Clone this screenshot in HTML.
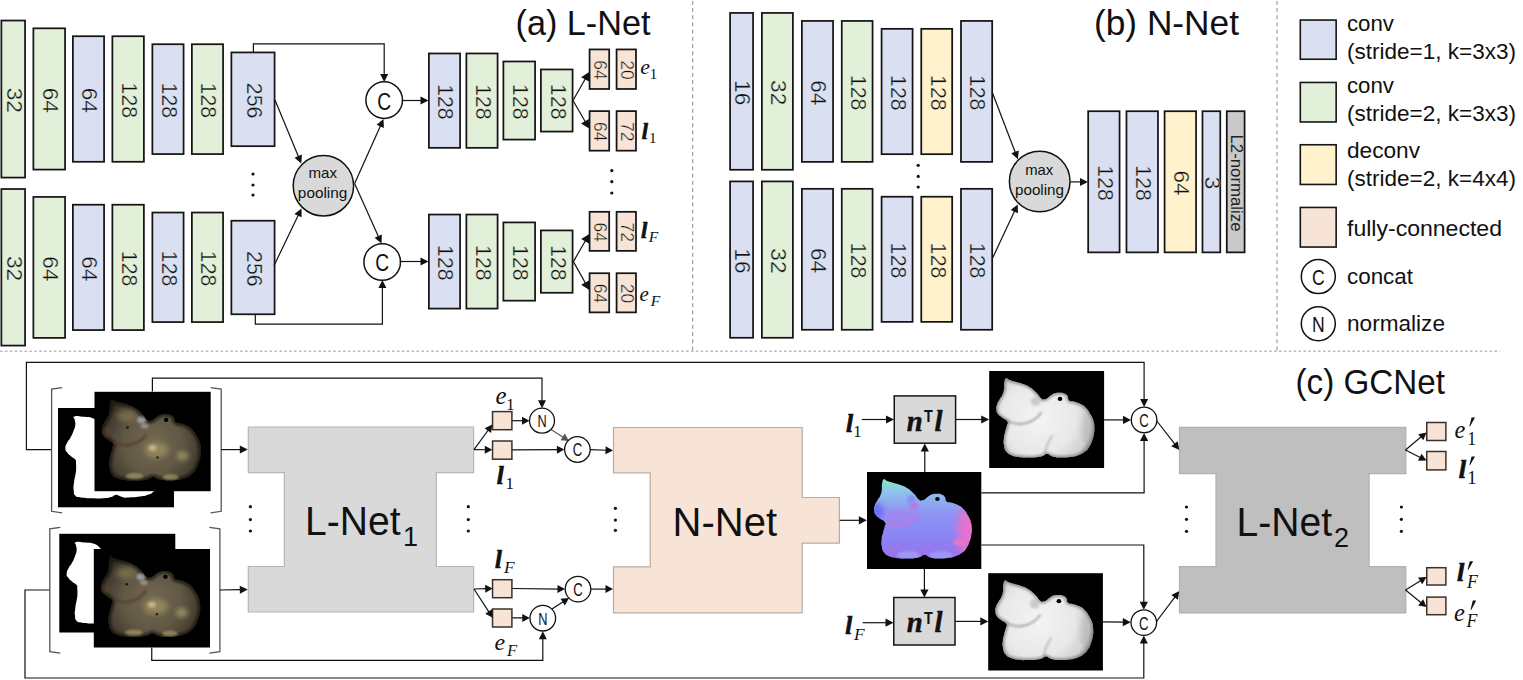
<!DOCTYPE html>
<html><head><meta charset="utf-8"><style>
html,body{margin:0;padding:0;background:#fff;}
svg{display:block;}
</style></head><body>
<svg width="1523" height="680" viewBox="0 0 1523 680">
<defs><clipPath id="catclip"><path d="M17.00,7.40 C18.59,6.41 17.50,8.06 20.50,9.20 C23.50,10.34 22.95,10.00 27.00,11.20 C31.05,12.40 29.80,11.61 34.00,13.20 C38.20,14.79 36.95,13.86 41.00,16.50 C45.05,19.14 44.05,18.55 47.50,22.00 C50.95,25.45 49.95,25.96 52.50,28.00 C55.05,30.04 54.05,28.95 56.00,28.80 C57.95,28.65 57.05,28.70 59.00,27.50 C60.95,26.30 60.25,26.21 62.50,24.80 C64.75,23.39 63.95,23.58 66.50,22.80 C69.05,22.02 68.30,22.14 71.00,22.20 C73.70,22.26 73.10,22.01 75.50,23.00 C77.90,23.99 77.41,23.40 79.00,25.50 C80.59,27.60 78.70,28.20 80.80,30.00 C82.90,31.80 82.46,30.30 86.00,31.50 C89.54,32.70 89.00,32.05 92.60,34.00 C96.20,35.95 95.18,35.06 98.00,38.00 C100.82,40.94 99.90,40.20 102.00,43.80 C104.10,47.40 103.74,46.04 105.00,50.00 C106.26,53.96 105.96,52.80 106.20,57.00 C106.44,61.20 106.46,59.80 105.80,64.00 C105.14,68.20 105.44,66.95 104.00,71.00 C102.56,75.05 103.25,74.05 101.00,77.50 C98.75,80.95 99.80,79.95 96.50,82.50 C93.20,85.05 94.35,84.41 90.00,86.00 C85.65,87.59 87.40,87.11 82.00,87.80 C76.60,88.49 77.40,88.48 72.00,88.30 C66.60,88.12 68.05,88.25 64.00,87.20 C59.95,86.15 61.50,84.92 58.50,84.80 C55.50,84.68 57.15,85.84 54.00,86.80 C50.85,87.76 52.20,87.52 48.00,88.00 C43.80,88.48 45.10,88.40 40.00,88.40 C34.90,88.40 36.10,88.66 31.00,88.00 C25.90,87.34 27.05,87.85 23.00,86.20 C18.95,84.55 19.90,85.56 17.50,82.50 C15.10,79.44 15.81,80.05 15.00,76.00 C14.19,71.95 14.44,73.20 14.80,69.00 C15.16,64.80 15.30,65.90 16.20,62.00 C17.10,58.10 17.17,59.15 17.80,56.00 C18.43,52.85 19.74,54.05 18.30,51.50 C16.86,48.95 15.79,49.75 13.00,47.50 C10.21,45.25 10.71,46.55 9.00,44.00 C7.29,41.45 7.60,42.00 7.30,39.00 C7.00,36.00 7.04,37.00 8.00,34.00 C8.96,31.00 8.85,32.00 10.50,29.00 C12.15,26.00 12.15,27.30 13.50,24.00 C14.85,20.70 14.49,21.45 15.00,18.00 C15.51,14.55 14.60,15.68 15.20,12.50 C15.80,9.32 15.41,8.39 17.00,7.40 Z"/></clipPath><filter id="blur2" x="-20%" y="-20%" width="140%" height="140%"><feGaussianBlur stdDeviation="2.5"/></filter><filter id="blur3" x="-50%" y="-50%" width="200%" height="200%"><feGaussianBlur stdDeviation="4.5"/></filter><filter id="blur1" x="-20%" y="-20%" width="140%" height="140%"><feGaussianBlur stdDeviation="1.2"/></filter><radialGradient id="goldg" gradientUnits="userSpaceOnUse" cx="58" cy="52" r="58"><stop offset="0" stop-color="#746a52"/><stop offset="0.5" stop-color="#615845"/><stop offset="0.82" stop-color="#433c2f"/><stop offset="1" stop-color="#201d17"/></radialGradient><radialGradient id="whiteg" gradientUnits="userSpaceOnUse" cx="50" cy="48" r="62"><stop offset="0" stop-color="#f4f4f4"/><stop offset="0.6" stop-color="#e8e8e8"/><stop offset="0.85" stop-color="#d0d0d0"/><stop offset="1" stop-color="#8a8a8a"/></radialGradient><linearGradient id="nrmg" gradientUnits="userSpaceOnUse" x1="0" y1="8" x2="0" y2="90"><stop offset="0" stop-color="#86e6b8"/><stop offset="0.12" stop-color="#8fc8ea"/><stop offset="0.4" stop-color="#8e96f4"/><stop offset="0.75" stop-color="#8a82f4"/><stop offset="1" stop-color="#a070e8"/></linearGradient></defs>
<rect width="1523" height="680" fill="#fff"/>
<line x1="0" y1="351.2" x2="1500" y2="351.2" stroke="#9c9c9c" stroke-width="1" stroke-dasharray="2.6 2.3"/>
<line x1="692.7" y1="0" x2="692.7" y2="351" stroke="#959595" stroke-width="1.1" stroke-dasharray="3.9 3.3" stroke-dashoffset="-0.9"/>
<line x1="1277" y1="0" x2="1277" y2="351" stroke="#959595" stroke-width="1.1" stroke-dasharray="3.9 3.3" stroke-dashoffset="-0.9"/>
<rect x="1.38" y="20.53" width="23.70" height="157.05" fill="#e2f0d9" stroke="#151515" stroke-width="1.75"/>
<text transform="translate(14.65,100.35) rotate(90)" x="0" y="7.57" text-anchor="middle" font-family='"Liberation Sans", sans-serif' font-size="22" fill="#111" textLength="25.1" lengthAdjust="spacingAndGlyphs" stroke="#e2f0d9" stroke-width="0.35">32</text>
<rect x="33.38" y="28.33" width="31.70" height="141.25" fill="#e2f0d9" stroke="#151515" stroke-width="1.75"/>
<text transform="translate(50.65,100.25) rotate(90)" x="0" y="7.57" text-anchor="middle" font-family='"Liberation Sans", sans-serif' font-size="22" fill="#111" textLength="25.1" lengthAdjust="spacingAndGlyphs" stroke="#e2f0d9" stroke-width="0.35">64</text>
<rect x="72.88" y="36.23" width="31.20" height="125.55" fill="#dae0f2" stroke="#151515" stroke-width="1.75"/>
<text transform="translate(89.90,100.30) rotate(90)" x="0" y="7.57" text-anchor="middle" font-family='"Liberation Sans", sans-serif' font-size="22" fill="#111" textLength="25.1" lengthAdjust="spacingAndGlyphs" stroke="#dae0f2" stroke-width="0.35">64</text>
<rect x="112.38" y="36.23" width="31.50" height="125.55" fill="#e2f0d9" stroke="#151515" stroke-width="1.75"/>
<text transform="translate(129.55,100.30) rotate(90)" x="0" y="7.57" text-anchor="middle" font-family='"Liberation Sans", sans-serif' font-size="22" fill="#111" textLength="35.5" lengthAdjust="spacingAndGlyphs" stroke="#e2f0d9" stroke-width="0.35">128</text>
<rect x="152.38" y="44.23" width="31.20" height="109.85" fill="#dae0f2" stroke="#151515" stroke-width="1.75"/>
<text transform="translate(169.40,100.45) rotate(90)" x="0" y="7.57" text-anchor="middle" font-family='"Liberation Sans", sans-serif' font-size="22" fill="#111" textLength="35.5" lengthAdjust="spacingAndGlyphs" stroke="#dae0f2" stroke-width="0.35">128</text>
<rect x="191.88" y="44.23" width="31.20" height="109.85" fill="#e2f0d9" stroke="#151515" stroke-width="1.75"/>
<text transform="translate(208.90,100.45) rotate(90)" x="0" y="7.57" text-anchor="middle" font-family='"Liberation Sans", sans-serif' font-size="22" fill="#111" textLength="35.5" lengthAdjust="spacingAndGlyphs" stroke="#e2f0d9" stroke-width="0.35">128</text>
<rect x="231.38" y="52.43" width="43.20" height="93.75" fill="#dae0f2" stroke="#151515" stroke-width="1.75"/>
<text transform="translate(254.40,100.60) rotate(90)" x="0" y="7.57" text-anchor="middle" font-family='"Liberation Sans", sans-serif' font-size="22" fill="#111" textLength="35.5" lengthAdjust="spacingAndGlyphs" stroke="#dae0f2" stroke-width="0.35">256</text>
<rect x="1.38" y="189.03" width="23.70" height="156.55" fill="#e2f0d9" stroke="#151515" stroke-width="1.75"/>
<text transform="translate(14.65,268.60) rotate(90)" x="0" y="7.57" text-anchor="middle" font-family='"Liberation Sans", sans-serif' font-size="22" fill="#111" textLength="25.1" lengthAdjust="spacingAndGlyphs" stroke="#e2f0d9" stroke-width="0.35">32</text>
<rect x="33.38" y="196.92" width="31.70" height="140.95" fill="#e2f0d9" stroke="#151515" stroke-width="1.75"/>
<text transform="translate(50.65,268.70) rotate(90)" x="0" y="7.57" text-anchor="middle" font-family='"Liberation Sans", sans-serif' font-size="22" fill="#111" textLength="25.1" lengthAdjust="spacingAndGlyphs" stroke="#e2f0d9" stroke-width="0.35">64</text>
<rect x="72.88" y="204.72" width="31.20" height="125.35" fill="#dae0f2" stroke="#151515" stroke-width="1.75"/>
<text transform="translate(89.90,268.70) rotate(90)" x="0" y="7.57" text-anchor="middle" font-family='"Liberation Sans", sans-serif' font-size="22" fill="#111" textLength="25.1" lengthAdjust="spacingAndGlyphs" stroke="#dae0f2" stroke-width="0.35">64</text>
<rect x="112.38" y="204.72" width="31.50" height="125.35" fill="#e2f0d9" stroke="#151515" stroke-width="1.75"/>
<text transform="translate(129.55,268.70) rotate(90)" x="0" y="7.57" text-anchor="middle" font-family='"Liberation Sans", sans-serif' font-size="22" fill="#111" textLength="35.5" lengthAdjust="spacingAndGlyphs" stroke="#e2f0d9" stroke-width="0.35">128</text>
<rect x="152.38" y="212.53" width="31.20" height="109.55" fill="#dae0f2" stroke="#151515" stroke-width="1.75"/>
<text transform="translate(169.40,268.60) rotate(90)" x="0" y="7.57" text-anchor="middle" font-family='"Liberation Sans", sans-serif' font-size="22" fill="#111" textLength="35.5" lengthAdjust="spacingAndGlyphs" stroke="#dae0f2" stroke-width="0.35">128</text>
<rect x="191.88" y="212.53" width="31.20" height="109.55" fill="#e2f0d9" stroke="#151515" stroke-width="1.75"/>
<text transform="translate(208.90,268.60) rotate(90)" x="0" y="7.57" text-anchor="middle" font-family='"Liberation Sans", sans-serif' font-size="22" fill="#111" textLength="35.5" lengthAdjust="spacingAndGlyphs" stroke="#e2f0d9" stroke-width="0.35">128</text>
<rect x="231.38" y="220.72" width="43.20" height="93.55" fill="#dae0f2" stroke="#151515" stroke-width="1.75"/>
<text transform="translate(254.40,268.80) rotate(90)" x="0" y="7.57" text-anchor="middle" font-family='"Liberation Sans", sans-serif' font-size="22" fill="#111" textLength="35.5" lengthAdjust="spacingAndGlyphs" stroke="#dae0f2" stroke-width="0.35">256</text>
<circle cx="253" cy="174" r="1.6" fill="#111"/>
<circle cx="253" cy="185" r="1.6" fill="#111"/>
<circle cx="253" cy="195" r="1.6" fill="#111"/>
<polyline points="253.40,52.20 253.40,43.80 384.20,43.80 384.20,75.00" fill="none" stroke="#111" stroke-width="1.2"/>
<polygon points="384.20,82.00 380.20,74.00 388.20,74.00" fill="#111"/>
<polyline points="255.30,314.70 255.30,324.10 382.40,324.10 382.40,287.00" fill="none" stroke="#111" stroke-width="1.2"/>
<polygon points="382.40,280.00 386.40,288.00 378.40,288.00" fill="#111"/>
<circle cx="323.4" cy="185.8" r="30.2" fill="#d9d9d9" stroke="#111" stroke-width="1.5"/>
<text x="322.80" y="178.00" text-anchor="middle" font-family='"Liberation Sans", sans-serif' font-size="15" font-weight="normal" font-style="normal" fill="#111" textLength="28.5" lengthAdjust="spacingAndGlyphs" >max</text>
<text x="322.60" y="197.60" text-anchor="middle" font-family='"Liberation Sans", sans-serif' font-size="15" font-weight="normal" font-style="normal" fill="#111" textLength="49.5" lengthAdjust="spacingAndGlyphs" >pooling</text>
<polyline points="275.00,100.00 298.62,157.03" fill="none" stroke="#111" stroke-width="1.2"/>
<polygon points="301.30,163.50 294.54,157.64 301.93,154.58" fill="#111"/>
<polyline points="274.00,265.70 298.47,214.71" fill="none" stroke="#111" stroke-width="1.2"/>
<polygon points="301.50,208.40 301.64,217.34 294.43,213.88" fill="#111"/>
<polyline points="354.60,183.50 380.64,125.39" fill="none" stroke="#111" stroke-width="1.2"/>
<polygon points="383.50,119.00 383.88,127.94 376.58,124.67" fill="#111"/>
<polyline points="354.60,183.50 378.64,237.11" fill="none" stroke="#111" stroke-width="1.2"/>
<polygon points="381.50,243.50 374.58,237.84 381.88,234.56" fill="#111"/>
<circle cx="384.2" cy="100.1" r="18.3" fill="#fff" stroke="#111" stroke-width="1.5"/>
<text x="384.20" y="109.56" text-anchor="middle" font-family='"Liberation Sans", sans-serif' font-size="24" font-weight="normal" font-style="normal" fill="#111" textLength="13.86" lengthAdjust="spacingAndGlyphs" >C</text>
<circle cx="382.2" cy="262" r="18.3" fill="#fff" stroke="#111" stroke-width="1.5"/>
<text x="382.20" y="271.46" text-anchor="middle" font-family='"Liberation Sans", sans-serif' font-size="24" font-weight="normal" font-style="normal" fill="#111" textLength="13.86" lengthAdjust="spacingAndGlyphs" >C</text>
<polyline points="401.70,100.50 421.50,100.50" fill="none" stroke="#111" stroke-width="1.2"/>
<polygon points="428.50,100.50 420.50,104.50 420.50,96.50" fill="#111"/>
<polyline points="399.70,261.50 421.50,261.50" fill="none" stroke="#111" stroke-width="1.2"/>
<polygon points="428.50,261.50 420.50,265.50 420.50,257.50" fill="#111"/>
<rect x="428.88" y="53.48" width="31.20" height="94.35" fill="#dae0f2" stroke="#151515" stroke-width="1.75"/>
<text transform="translate(445.90,101.95) rotate(90)" x="0" y="7.57" text-anchor="middle" font-family='"Liberation Sans", sans-serif' font-size="22" fill="#111" textLength="35.5" lengthAdjust="spacingAndGlyphs" stroke="#dae0f2" stroke-width="0.35">128</text>
<rect x="466.38" y="53.48" width="31.20" height="94.35" fill="#e2f0d9" stroke="#151515" stroke-width="1.75"/>
<text transform="translate(483.40,101.95) rotate(90)" x="0" y="7.57" text-anchor="middle" font-family='"Liberation Sans", sans-serif' font-size="22" fill="#111" textLength="35.5" lengthAdjust="spacingAndGlyphs" stroke="#e2f0d9" stroke-width="0.35">128</text>
<rect x="503.38" y="61.48" width="31.70" height="78.10" fill="#e2f0d9" stroke="#151515" stroke-width="1.75"/>
<text transform="translate(520.65,101.83) rotate(90)" x="0" y="7.57" text-anchor="middle" font-family='"Liberation Sans", sans-serif' font-size="22" fill="#111" textLength="35.5" lengthAdjust="spacingAndGlyphs" stroke="#e2f0d9" stroke-width="0.35">128</text>
<rect x="540.88" y="69.47" width="31.70" height="62.10" fill="#e2f0d9" stroke="#151515" stroke-width="1.75"/>
<text transform="translate(558.15,101.83) rotate(90)" x="0" y="7.57" text-anchor="middle" font-family='"Liberation Sans", sans-serif' font-size="22" fill="#111" textLength="35.5" lengthAdjust="spacingAndGlyphs" stroke="#e2f0d9" stroke-width="0.35">128</text>
<rect x="428.88" y="214.53" width="31.20" height="94.05" fill="#dae0f2" stroke="#151515" stroke-width="1.75"/>
<text transform="translate(445.90,262.85) rotate(90)" x="0" y="7.57" text-anchor="middle" font-family='"Liberation Sans", sans-serif' font-size="22" fill="#111" textLength="35.5" lengthAdjust="spacingAndGlyphs" stroke="#dae0f2" stroke-width="0.35">128</text>
<rect x="466.38" y="214.53" width="31.20" height="94.05" fill="#e2f0d9" stroke="#151515" stroke-width="1.75"/>
<text transform="translate(483.40,262.85) rotate(90)" x="0" y="7.57" text-anchor="middle" font-family='"Liberation Sans", sans-serif' font-size="22" fill="#111" textLength="35.5" lengthAdjust="spacingAndGlyphs" stroke="#e2f0d9" stroke-width="0.35">128</text>
<rect x="503.38" y="222.42" width="31.70" height="78.25" fill="#e2f0d9" stroke="#151515" stroke-width="1.75"/>
<text transform="translate(520.65,262.85) rotate(90)" x="0" y="7.57" text-anchor="middle" font-family='"Liberation Sans", sans-serif' font-size="22" fill="#111" textLength="35.5" lengthAdjust="spacingAndGlyphs" stroke="#e2f0d9" stroke-width="0.35">128</text>
<rect x="540.88" y="230.42" width="31.70" height="62.35" fill="#e2f0d9" stroke="#151515" stroke-width="1.75"/>
<text transform="translate(558.15,262.90) rotate(90)" x="0" y="7.57" text-anchor="middle" font-family='"Liberation Sans", sans-serif' font-size="22" fill="#111" textLength="35.5" lengthAdjust="spacingAndGlyphs" stroke="#e2f0d9" stroke-width="0.35">128</text>
<rect x="589.58" y="49.43" width="19.60" height="39.55" fill="#f8e4d6" stroke="#151515" stroke-width="1.75"/>
<text transform="translate(600.30,70.00) rotate(90)" x="0" y="6.12" text-anchor="middle" font-family='"Liberation Sans", sans-serif' font-size="17.8" fill="#111" textLength="19.5" lengthAdjust="spacingAndGlyphs" stroke="#f8e4d6" stroke-width="0.4">64</text>
<rect x="616.58" y="49.43" width="19.40" height="39.55" fill="#f8e4d6" stroke="#151515" stroke-width="1.75"/>
<text transform="translate(627.20,70.00) rotate(90)" x="0" y="6.12" text-anchor="middle" font-family='"Liberation Sans", sans-serif' font-size="17.8" fill="#111" textLength="19.5" lengthAdjust="spacingAndGlyphs" stroke="#f8e4d6" stroke-width="0.4">20</text>
<rect x="589.58" y="111.12" width="19.60" height="39.55" fill="#f8e4d6" stroke="#151515" stroke-width="1.75"/>
<text transform="translate(600.30,131.70) rotate(90)" x="0" y="6.12" text-anchor="middle" font-family='"Liberation Sans", sans-serif' font-size="17.8" fill="#111" textLength="19.5" lengthAdjust="spacingAndGlyphs" stroke="#f8e4d6" stroke-width="0.4">64</text>
<rect x="616.58" y="111.12" width="19.40" height="39.55" fill="#f8e4d6" stroke="#151515" stroke-width="1.75"/>
<text transform="translate(627.20,131.70) rotate(90)" x="0" y="6.12" text-anchor="middle" font-family='"Liberation Sans", sans-serif' font-size="17.8" fill="#111" textLength="19.5" lengthAdjust="spacingAndGlyphs" stroke="#f8e4d6" stroke-width="0.4">72</text>
<rect x="589.58" y="211.82" width="19.60" height="39.05" fill="#f8e4d6" stroke="#151515" stroke-width="1.75"/>
<text transform="translate(600.30,232.15) rotate(90)" x="0" y="6.12" text-anchor="middle" font-family='"Liberation Sans", sans-serif' font-size="17.8" fill="#111" textLength="19.5" lengthAdjust="spacingAndGlyphs" stroke="#f8e4d6" stroke-width="0.4">64</text>
<rect x="616.58" y="211.82" width="19.40" height="39.05" fill="#f8e4d6" stroke="#151515" stroke-width="1.75"/>
<text transform="translate(627.20,232.15) rotate(90)" x="0" y="6.12" text-anchor="middle" font-family='"Liberation Sans", sans-serif' font-size="17.8" fill="#111" textLength="19.5" lengthAdjust="spacingAndGlyphs" stroke="#f8e4d6" stroke-width="0.4">72</text>
<rect x="589.58" y="273.23" width="19.60" height="39.15" fill="#f8e4d6" stroke="#151515" stroke-width="1.75"/>
<text transform="translate(600.30,293.60) rotate(90)" x="0" y="6.12" text-anchor="middle" font-family='"Liberation Sans", sans-serif' font-size="17.8" fill="#111" textLength="19.5" lengthAdjust="spacingAndGlyphs" stroke="#f8e4d6" stroke-width="0.4">64</text>
<rect x="616.58" y="273.23" width="19.40" height="39.15" fill="#f8e4d6" stroke="#151515" stroke-width="1.75"/>
<text transform="translate(627.20,293.60) rotate(90)" x="0" y="6.12" text-anchor="middle" font-family='"Liberation Sans", sans-serif' font-size="17.8" fill="#111" textLength="19.5" lengthAdjust="spacingAndGlyphs" stroke="#f8e4d6" stroke-width="0.4">20</text>
<polyline points="573.00,100.50 585.49,78.52" fill="none" stroke="#111" stroke-width="1.2"/>
<polygon points="589.20,72.00 588.91,81.61 581.09,77.17" fill="#111"/>
<polyline points="573.00,100.50 585.44,122.01" fill="none" stroke="#111" stroke-width="1.2"/>
<polygon points="589.20,128.50 581.05,123.40 588.84,118.89" fill="#111"/>
<polyline points="573.40,261.60 585.56,240.50" fill="none" stroke="#111" stroke-width="1.2"/>
<polygon points="589.30,234.00 588.96,243.61 581.16,239.12" fill="#111"/>
<polyline points="573.40,261.60 585.64,283.46" fill="none" stroke="#111" stroke-width="1.2"/>
<polygon points="589.30,290.00 581.22,284.78 589.07,280.38" fill="#111"/>
<circle cx="611.8" cy="170.6" r="1.6" fill="#111"/>
<circle cx="611.8" cy="181.7" r="1.6" fill="#111"/>
<circle cx="611.8" cy="193" r="1.6" fill="#111"/>
<text x="640.32" y="73.70" font-family='"Liberation Serif", serif' font-size="21.83" font-style="italic" font-weight="normal" fill="#111" >e</text>
<text x="649.78" y="78.80" font-family='"Liberation Serif", serif' font-size="15.00" font-style="normal" font-weight="normal" fill="#111" >1</text>
<text x="641.81" y="138.60" font-family='"Liberation Serif", serif' font-size="22.19" font-style="italic" font-weight="bold" fill="#111" stroke="#111" stroke-width="0.7">l</text>
<text x="648.88" y="142.80" font-family='"Liberation Serif", serif' font-size="15.00" font-style="normal" font-weight="normal" fill="#111" >1</text>
<text x="640.90" y="237.50" font-family='"Liberation Serif", serif' font-size="22.62" font-style="italic" font-weight="bold" fill="#111" stroke="#111" stroke-width="0.7">l</text>
<text x="648.78" y="241.50" font-family='"Liberation Serif", serif' font-size="15.57" font-style="italic" font-weight="normal" fill="#111" >F</text>
<text x="639.45" y="300.70" font-family='"Liberation Serif", serif' font-size="21.00" font-style="italic" font-weight="normal" fill="#111" >e</text>
<text x="650.78" y="305.60" font-family='"Liberation Serif", serif' font-size="15.57" font-style="italic" font-weight="normal" fill="#111" >F</text>
<text x="515.50" y="34.75" text-anchor="start" font-family='"Liberation Sans", sans-serif' font-size="35" font-weight="normal" font-style="normal" fill="#111" textLength="135" lengthAdjust="spacingAndGlyphs" >(a) L-Net</text>
<rect x="730.08" y="12.92" width="23.00" height="156.85" fill="#dae0f2" stroke="#151515" stroke-width="1.75"/>
<text transform="translate(743.00,92.65) rotate(90)" x="0" y="7.57" text-anchor="middle" font-family='"Liberation Sans", sans-serif' font-size="22" fill="#111" textLength="25.1" lengthAdjust="spacingAndGlyphs" stroke="#dae0f2" stroke-width="0.35">16</text>
<rect x="761.88" y="12.92" width="31.00" height="156.85" fill="#e2f0d9" stroke="#151515" stroke-width="1.75"/>
<text transform="translate(778.80,92.65) rotate(90)" x="0" y="7.57" text-anchor="middle" font-family='"Liberation Sans", sans-serif' font-size="22" fill="#111" textLength="25.1" lengthAdjust="spacingAndGlyphs" stroke="#e2f0d9" stroke-width="0.35">32</text>
<rect x="801.88" y="20.93" width="31.20" height="140.95" fill="#dae0f2" stroke="#151515" stroke-width="1.75"/>
<text transform="translate(818.90,92.70) rotate(90)" x="0" y="7.57" text-anchor="middle" font-family='"Liberation Sans", sans-serif' font-size="22" fill="#111" textLength="25.1" lengthAdjust="spacingAndGlyphs" stroke="#dae0f2" stroke-width="0.35">64</text>
<rect x="841.77" y="20.93" width="30.80" height="140.95" fill="#e2f0d9" stroke="#151515" stroke-width="1.75"/>
<text transform="translate(858.60,92.70) rotate(90)" x="0" y="7.57" text-anchor="middle" font-family='"Liberation Sans", sans-serif' font-size="22" fill="#111" textLength="35.5" lengthAdjust="spacingAndGlyphs" stroke="#e2f0d9" stroke-width="0.35">128</text>
<rect x="881.58" y="28.83" width="31.00" height="125.35" fill="#dae0f2" stroke="#151515" stroke-width="1.75"/>
<text transform="translate(898.50,92.80) rotate(90)" x="0" y="7.57" text-anchor="middle" font-family='"Liberation Sans", sans-serif' font-size="22" fill="#111" textLength="35.5" lengthAdjust="spacingAndGlyphs" stroke="#dae0f2" stroke-width="0.35">128</text>
<rect x="921.27" y="28.83" width="30.90" height="125.35" fill="#fff2cc" stroke="#151515" stroke-width="1.75"/>
<text transform="translate(938.15,92.80) rotate(90)" x="0" y="7.57" text-anchor="middle" font-family='"Liberation Sans", sans-serif' font-size="22" fill="#111" textLength="35.5" lengthAdjust="spacingAndGlyphs" stroke="#fff2cc" stroke-width="0.35">128</text>
<rect x="960.98" y="20.93" width="31.20" height="140.95" fill="#dae0f2" stroke="#151515" stroke-width="1.75"/>
<text transform="translate(978.00,92.70) rotate(90)" x="0" y="7.57" text-anchor="middle" font-family='"Liberation Sans", sans-serif' font-size="22" fill="#111" textLength="35.5" lengthAdjust="spacingAndGlyphs" stroke="#dae0f2" stroke-width="0.35">128</text>
<rect x="730.08" y="181.42" width="23.00" height="156.35" fill="#dae0f2" stroke="#151515" stroke-width="1.75"/>
<text transform="translate(743.00,260.90) rotate(90)" x="0" y="7.57" text-anchor="middle" font-family='"Liberation Sans", sans-serif' font-size="22" fill="#111" textLength="25.1" lengthAdjust="spacingAndGlyphs" stroke="#dae0f2" stroke-width="0.35">16</text>
<rect x="761.88" y="181.42" width="31.00" height="156.35" fill="#e2f0d9" stroke="#151515" stroke-width="1.75"/>
<text transform="translate(778.80,260.90) rotate(90)" x="0" y="7.57" text-anchor="middle" font-family='"Liberation Sans", sans-serif' font-size="22" fill="#111" textLength="25.1" lengthAdjust="spacingAndGlyphs" stroke="#e2f0d9" stroke-width="0.35">32</text>
<rect x="801.88" y="188.82" width="31.20" height="140.95" fill="#dae0f2" stroke="#151515" stroke-width="1.75"/>
<text transform="translate(818.90,260.60) rotate(90)" x="0" y="7.57" text-anchor="middle" font-family='"Liberation Sans", sans-serif' font-size="22" fill="#111" textLength="25.1" lengthAdjust="spacingAndGlyphs" stroke="#dae0f2" stroke-width="0.35">64</text>
<rect x="841.77" y="188.82" width="30.80" height="140.95" fill="#e2f0d9" stroke="#151515" stroke-width="1.75"/>
<text transform="translate(858.60,260.60) rotate(90)" x="0" y="7.57" text-anchor="middle" font-family='"Liberation Sans", sans-serif' font-size="22" fill="#111" textLength="35.5" lengthAdjust="spacingAndGlyphs" stroke="#e2f0d9" stroke-width="0.35">128</text>
<rect x="881.58" y="196.72" width="31.00" height="125.15" fill="#dae0f2" stroke="#151515" stroke-width="1.75"/>
<text transform="translate(898.50,260.60) rotate(90)" x="0" y="7.57" text-anchor="middle" font-family='"Liberation Sans", sans-serif' font-size="22" fill="#111" textLength="35.5" lengthAdjust="spacingAndGlyphs" stroke="#dae0f2" stroke-width="0.35">128</text>
<rect x="921.27" y="196.72" width="30.90" height="125.15" fill="#fff2cc" stroke="#151515" stroke-width="1.75"/>
<text transform="translate(938.15,260.60) rotate(90)" x="0" y="7.57" text-anchor="middle" font-family='"Liberation Sans", sans-serif' font-size="22" fill="#111" textLength="35.5" lengthAdjust="spacingAndGlyphs" stroke="#fff2cc" stroke-width="0.35">128</text>
<rect x="960.98" y="188.82" width="31.20" height="140.95" fill="#dae0f2" stroke="#151515" stroke-width="1.75"/>
<text transform="translate(978.00,260.60) rotate(90)" x="0" y="7.57" text-anchor="middle" font-family='"Liberation Sans", sans-serif' font-size="22" fill="#111" textLength="35.5" lengthAdjust="spacingAndGlyphs" stroke="#dae0f2" stroke-width="0.35">128</text>
<circle cx="918.2" cy="165.3" r="1.6" fill="#111"/>
<circle cx="918.2" cy="176.4" r="1.6" fill="#111"/>
<circle cx="918.2" cy="187" r="1.6" fill="#111"/>
<circle cx="1039.7" cy="181.5" r="30.3" fill="#d9d9d9" stroke="#111" stroke-width="1.5"/>
<text x="1039.20" y="175.00" text-anchor="middle" font-family='"Liberation Sans", sans-serif' font-size="15" font-weight="normal" font-style="normal" fill="#111" textLength="28" lengthAdjust="spacingAndGlyphs" >max</text>
<text x="1039.50" y="194.50" text-anchor="middle" font-family='"Liberation Sans", sans-serif' font-size="15" font-weight="normal" font-style="normal" fill="#111" textLength="49" lengthAdjust="spacingAndGlyphs" >pooling</text>
<polyline points="992.60,93.30 1015.39,152.76" fill="none" stroke="#111" stroke-width="1.2"/>
<polygon points="1017.90,159.30 1011.30,153.26 1018.77,150.40" fill="#111"/>
<polyline points="992.60,258.00 1014.73,210.74" fill="none" stroke="#111" stroke-width="1.2"/>
<polygon points="1017.70,204.40 1017.93,213.34 1010.68,209.95" fill="#111"/>
<polyline points="1070.80,181.90 1081.00,181.90" fill="none" stroke="#111" stroke-width="1.2"/>
<polygon points="1088.00,181.90 1080.00,185.90 1080.00,177.90" fill="#111"/>
<rect x="1088.17" y="111.22" width="31.40" height="141.15" fill="#dae0f2" stroke="#151515" stroke-width="1.75"/>
<text transform="translate(1105.30,183.10) rotate(90)" x="0" y="7.57" text-anchor="middle" font-family='"Liberation Sans", sans-serif' font-size="22" fill="#111" textLength="35.5" lengthAdjust="spacingAndGlyphs" stroke="#dae0f2" stroke-width="0.35">128</text>
<rect x="1126.47" y="111.22" width="31.50" height="141.15" fill="#dae0f2" stroke="#151515" stroke-width="1.75"/>
<text transform="translate(1143.65,183.10) rotate(90)" x="0" y="7.57" text-anchor="middle" font-family='"Liberation Sans", sans-serif' font-size="22" fill="#111" textLength="35.5" lengthAdjust="spacingAndGlyphs" stroke="#dae0f2" stroke-width="0.35">128</text>
<rect x="1164.58" y="111.22" width="31.50" height="141.15" fill="#fff2cc" stroke="#151515" stroke-width="1.75"/>
<text transform="translate(1181.75,183.10) rotate(90)" x="0" y="7.57" text-anchor="middle" font-family='"Liberation Sans", sans-serif' font-size="22" fill="#111" textLength="25.1" lengthAdjust="spacingAndGlyphs" stroke="#fff2cc" stroke-width="0.35">64</text>
<rect x="1202.47" y="111.22" width="17.80" height="141.15" fill="#dae0f2" stroke="#151515" stroke-width="1.75"/>
<text transform="translate(1212.80,183.10) rotate(90)" x="0" y="7.57" text-anchor="middle" font-family='"Liberation Sans", sans-serif' font-size="22" fill="#111" textLength="12.5" lengthAdjust="spacingAndGlyphs" stroke="#dae0f2" stroke-width="0.35">3</text>
<rect x="1226.78" y="111.22" width="17.80" height="141.15" fill="#c9c9c9" stroke="#151515" stroke-width="1.75"/>
<text transform="translate(1236.00,183.00) rotate(90)" x="0" y="5.50" text-anchor="middle" font-family='"Liberation Sans", sans-serif' font-size="16" fill="#222" textLength="97" lengthAdjust="spacingAndGlyphs">L2-normalize</text>
<text x="1094.00" y="35.20" text-anchor="start" font-family='"Liberation Sans", sans-serif' font-size="35" font-weight="normal" font-style="normal" fill="#111" textLength="145" lengthAdjust="spacingAndGlyphs" >(b) N-Net</text>
<rect x="1300.30" y="20.05" width="35.85" height="39.20" fill="#dae0f2" stroke="#151515" stroke-width="1.6"/>
<rect x="1300.30" y="82.45" width="35.85" height="39.50" fill="#e2f0d9" stroke="#151515" stroke-width="1.6"/>
<rect x="1300.30" y="144.75" width="35.85" height="39.70" fill="#fff2cc" stroke="#151515" stroke-width="1.6"/>
<rect x="1300.30" y="207.45" width="35.85" height="39.60" fill="#f8e4d6" stroke="#151515" stroke-width="1.6"/>
<text x="1347.00" y="31.00" text-anchor="start" font-family='"Liberation Sans", sans-serif' font-size="22" font-weight="normal" font-style="normal" fill="#111" textLength="47" lengthAdjust="spacingAndGlyphs" >conv</text>
<text x="1347.00" y="59.00" text-anchor="start" font-family='"Liberation Sans", sans-serif' font-size="22" font-weight="normal" font-style="normal" fill="#111" textLength="169" lengthAdjust="spacingAndGlyphs" >(stride=1, k=3x3)</text>
<text x="1347.00" y="92.60" text-anchor="start" font-family='"Liberation Sans", sans-serif' font-size="22" font-weight="normal" font-style="normal" fill="#111" textLength="47" lengthAdjust="spacingAndGlyphs" >conv</text>
<text x="1347.00" y="121.20" text-anchor="start" font-family='"Liberation Sans", sans-serif' font-size="22" font-weight="normal" font-style="normal" fill="#111" textLength="169" lengthAdjust="spacingAndGlyphs" >(stride=2, k=3x3)</text>
<text x="1347.00" y="158.00" text-anchor="start" font-family='"Liberation Sans", sans-serif' font-size="22" font-weight="normal" font-style="normal" fill="#111" textLength="73" lengthAdjust="spacingAndGlyphs" >deconv</text>
<text x="1347.00" y="186.30" text-anchor="start" font-family='"Liberation Sans", sans-serif' font-size="22" font-weight="normal" font-style="normal" fill="#111" textLength="169" lengthAdjust="spacingAndGlyphs" >(stride=2, k=4x4)</text>
<text x="1347.00" y="235.70" text-anchor="start" font-family='"Liberation Sans", sans-serif' font-size="22" font-weight="normal" font-style="normal" fill="#111" textLength="155" lengthAdjust="spacingAndGlyphs" >fully-connected</text>
<text x="1347.00" y="283.60" text-anchor="start" font-family='"Liberation Sans", sans-serif' font-size="22" font-weight="normal" font-style="normal" fill="#111" textLength="66" lengthAdjust="spacingAndGlyphs" >concat</text>
<text x="1347.00" y="331.40" text-anchor="start" font-family='"Liberation Sans", sans-serif' font-size="22" font-weight="normal" font-style="normal" fill="#111" textLength="98" lengthAdjust="spacingAndGlyphs" >normalize</text>
<circle cx="1318.3" cy="276.6" r="17" fill="#fff" stroke="#111" stroke-width="1.5"/>
<text x="1318.30" y="285.27" text-anchor="middle" font-family='"Liberation Sans", sans-serif' font-size="22" font-weight="normal" font-style="normal" fill="#111" textLength="12.71" lengthAdjust="spacingAndGlyphs" >C</text>
<circle cx="1318.3" cy="323.7" r="17" fill="#fff" stroke="#111" stroke-width="1.5"/>
<text x="1318.30" y="332.37" text-anchor="middle" font-family='"Liberation Sans", sans-serif' font-size="22" font-weight="normal" font-style="normal" fill="#111" textLength="12.71" lengthAdjust="spacingAndGlyphs" >N</text>
<polyline points="51.50,449.60 26.40,449.60 26.40,362.30 1144.10,362.30 1144.10,399.90" fill="none" stroke="#111" stroke-width="1.2"/>
<polygon points="1144.10,406.90 1140.10,398.90 1148.10,398.90" fill="#111"/>
<polyline points="152.40,391.50 152.40,378.20 542.00,378.20 542.00,401.20" fill="none" stroke="#111" stroke-width="1.2"/>
<polygon points="542.00,408.20 538.00,400.20 546.00,400.20" fill="#111"/>
<polyline points="50.00,590.00 25.00,590.00 25.00,678.00 1143.80,678.00 1143.80,642.60" fill="none" stroke="#111" stroke-width="1.2"/>
<polygon points="1143.80,635.60 1147.80,643.60 1139.80,643.60" fill="#111"/>
<polyline points="151.75,647.50 151.75,660.30 542.80,660.30 542.80,638.20" fill="none" stroke="#111" stroke-width="1.2"/>
<polygon points="542.80,631.20 546.80,639.20 538.80,639.20" fill="#111"/>
<rect x="58.00" y="408.00" width="116.00" height="99.30" fill="#000"/>
<g transform="translate(58.00,408.00) scale(1.0000,1.0030)"><path d="M16.50,8.50 C18.96,7.54 19.57,8.32 25.00,8.80 C30.43,9.28 29.80,8.39 34.60,10.10 C39.40,11.81 36.98,10.99 41.00,14.50 C45.02,18.01 44.55,17.75 48.00,21.80 C51.45,25.85 50.10,25.90 52.50,28.00 C54.90,30.10 54.05,28.95 56.00,28.80 C57.95,28.65 57.05,28.70 59.00,27.50 C60.95,26.30 60.25,26.21 62.50,24.80 C64.75,23.39 63.95,23.58 66.50,22.80 C69.05,22.02 68.30,22.14 71.00,22.20 C73.70,22.26 73.10,22.01 75.50,23.00 C77.90,23.99 77.41,23.40 79.00,25.50 C80.59,27.60 78.70,28.20 80.80,30.00 C82.90,31.80 82.46,30.30 86.00,31.50 C89.54,32.70 89.00,32.05 92.60,34.00 C96.20,35.95 95.18,35.06 98.00,38.00 C100.82,40.94 99.90,40.20 102.00,43.80 C104.10,47.40 103.74,46.04 105.00,50.00 C106.26,53.96 105.96,52.80 106.20,57.00 C106.44,61.20 106.46,59.80 105.80,64.00 C105.14,68.20 105.44,66.95 104.00,71.00 C102.56,75.05 103.40,73.90 101.00,77.50 C98.60,81.10 99.30,80.30 96.00,83.00 C92.70,85.70 94.80,84.85 90.00,86.50 C85.20,88.15 86.00,87.69 80.00,88.50 C74.00,89.31 74.29,88.99 70.00,89.20 C65.71,89.41 68.40,89.71 65.70,89.20 C63.00,88.69 63.46,88.25 61.00,87.50 C58.54,86.75 59.90,86.31 57.50,86.70 C55.10,87.09 56.45,87.81 53.00,88.80 C49.55,89.79 51.70,89.64 46.00,90.00 C40.30,90.36 40.90,90.24 34.00,90.00 C27.10,89.76 27.95,89.95 23.00,89.20 C18.05,88.45 19.69,89.66 17.50,87.50 C15.31,85.34 16.15,85.96 15.70,82.00 C15.25,78.04 15.46,79.10 16.00,74.30 C16.54,69.50 16.87,69.93 17.50,66.00 C18.13,62.07 17.95,64.50 18.10,61.20 C18.25,57.90 18.24,57.97 18.00,55.00 C17.76,52.03 18.80,53.40 17.30,51.30 C15.80,49.20 15.49,50.19 13.00,48.00 C10.51,45.81 10.68,46.46 9.00,44.00 C7.32,41.54 7.25,42.80 7.40,39.80 C7.55,36.80 8.03,36.97 9.50,34.00 C10.97,31.03 10.50,33.20 12.30,29.90 C14.10,26.60 14.00,26.93 15.50,23.00 C17.00,19.07 16.91,20.10 17.30,16.80 C17.69,13.50 17.04,14.49 16.80,12.00 C16.56,9.51 14.04,9.46 16.50,8.50 Z" fill="#fff"/></g>
<rect x="94.50" y="391.80" width="116.20" height="99.40" fill="#000"/>
<g transform="translate(94.50,391.80) scale(1.0017,1.0040)"><path d="M17.00,7.40 C18.59,6.41 17.50,8.06 20.50,9.20 C23.50,10.34 22.95,10.00 27.00,11.20 C31.05,12.40 29.80,11.61 34.00,13.20 C38.20,14.79 36.95,13.86 41.00,16.50 C45.05,19.14 44.05,18.55 47.50,22.00 C50.95,25.45 49.95,25.96 52.50,28.00 C55.05,30.04 54.05,28.95 56.00,28.80 C57.95,28.65 57.05,28.70 59.00,27.50 C60.95,26.30 60.25,26.21 62.50,24.80 C64.75,23.39 63.95,23.58 66.50,22.80 C69.05,22.02 68.30,22.14 71.00,22.20 C73.70,22.26 73.10,22.01 75.50,23.00 C77.90,23.99 77.41,23.40 79.00,25.50 C80.59,27.60 78.70,28.20 80.80,30.00 C82.90,31.80 82.46,30.30 86.00,31.50 C89.54,32.70 89.00,32.05 92.60,34.00 C96.20,35.95 95.18,35.06 98.00,38.00 C100.82,40.94 99.90,40.20 102.00,43.80 C104.10,47.40 103.74,46.04 105.00,50.00 C106.26,53.96 105.96,52.80 106.20,57.00 C106.44,61.20 106.46,59.80 105.80,64.00 C105.14,68.20 105.44,66.95 104.00,71.00 C102.56,75.05 103.25,74.05 101.00,77.50 C98.75,80.95 99.80,79.95 96.50,82.50 C93.20,85.05 94.35,84.41 90.00,86.00 C85.65,87.59 87.40,87.11 82.00,87.80 C76.60,88.49 77.40,88.48 72.00,88.30 C66.60,88.12 68.05,88.25 64.00,87.20 C59.95,86.15 61.50,84.92 58.50,84.80 C55.50,84.68 57.15,85.84 54.00,86.80 C50.85,87.76 52.20,87.52 48.00,88.00 C43.80,88.48 45.10,88.40 40.00,88.40 C34.90,88.40 36.10,88.66 31.00,88.00 C25.90,87.34 27.05,87.85 23.00,86.20 C18.95,84.55 19.90,85.56 17.50,82.50 C15.10,79.44 15.81,80.05 15.00,76.00 C14.19,71.95 14.44,73.20 14.80,69.00 C15.16,64.80 15.30,65.90 16.20,62.00 C17.10,58.10 17.17,59.15 17.80,56.00 C18.43,52.85 19.74,54.05 18.30,51.50 C16.86,48.95 15.79,49.75 13.00,47.50 C10.21,45.25 10.71,46.55 9.00,44.00 C7.29,41.45 7.60,42.00 7.30,39.00 C7.00,36.00 7.04,37.00 8.00,34.00 C8.96,31.00 8.85,32.00 10.50,29.00 C12.15,26.00 12.15,27.30 13.50,24.00 C14.85,20.70 14.49,21.45 15.00,18.00 C15.51,14.55 14.60,15.68 15.20,12.50 C15.80,9.32 15.41,8.39 17.00,7.40 Z" fill="url(#goldg)"/><g clip-path="url(#catclip)"><path d="M17.00,7.40 C18.59,6.41 17.50,8.06 20.50,9.20 C23.50,10.34 22.95,10.00 27.00,11.20 C31.05,12.40 29.80,11.61 34.00,13.20 C38.20,14.79 36.95,13.86 41.00,16.50 C45.05,19.14 44.05,18.55 47.50,22.00 C50.95,25.45 49.95,25.96 52.50,28.00 C55.05,30.04 54.05,28.95 56.00,28.80 C57.95,28.65 57.05,28.70 59.00,27.50 C60.95,26.30 60.25,26.21 62.50,24.80 C64.75,23.39 63.95,23.58 66.50,22.80 C69.05,22.02 68.30,22.14 71.00,22.20 C73.70,22.26 73.10,22.01 75.50,23.00 C77.90,23.99 77.41,23.40 79.00,25.50 C80.59,27.60 78.70,28.20 80.80,30.00 C82.90,31.80 82.46,30.30 86.00,31.50 C89.54,32.70 89.00,32.05 92.60,34.00 C96.20,35.95 95.18,35.06 98.00,38.00 C100.82,40.94 99.90,40.20 102.00,43.80 C104.10,47.40 103.74,46.04 105.00,50.00 C106.26,53.96 105.96,52.80 106.20,57.00 C106.44,61.20 106.46,59.80 105.80,64.00 C105.14,68.20 105.44,66.95 104.00,71.00 C102.56,75.05 103.25,74.05 101.00,77.50 C98.75,80.95 99.80,79.95 96.50,82.50 C93.20,85.05 94.35,84.41 90.00,86.00 C85.65,87.59 87.40,87.11 82.00,87.80 C76.60,88.49 77.40,88.48 72.00,88.30 C66.60,88.12 68.05,88.25 64.00,87.20 C59.95,86.15 61.50,84.92 58.50,84.80 C55.50,84.68 57.15,85.84 54.00,86.80 C50.85,87.76 52.20,87.52 48.00,88.00 C43.80,88.48 45.10,88.40 40.00,88.40 C34.90,88.40 36.10,88.66 31.00,88.00 C25.90,87.34 27.05,87.85 23.00,86.20 C18.95,84.55 19.90,85.56 17.50,82.50 C15.10,79.44 15.81,80.05 15.00,76.00 C14.19,71.95 14.44,73.20 14.80,69.00 C15.16,64.80 15.30,65.90 16.20,62.00 C17.10,58.10 17.17,59.15 17.80,56.00 C18.43,52.85 19.74,54.05 18.30,51.50 C16.86,48.95 15.79,49.75 13.00,47.50 C10.21,45.25 10.71,46.55 9.00,44.00 C7.29,41.45 7.60,42.00 7.30,39.00 C7.00,36.00 7.04,37.00 8.00,34.00 C8.96,31.00 8.85,32.00 10.50,29.00 C12.15,26.00 12.15,27.30 13.50,24.00 C14.85,20.70 14.49,21.45 15.00,18.00 C15.51,14.55 14.60,15.68 15.20,12.50 C15.80,9.32 15.41,8.39 17.00,7.40 Z" fill="none" stroke="#15130e" stroke-width="5" opacity="0.75" filter="url(#blur1)"/><ellipse cx="62" cy="58" rx="12" ry="8" fill="#a89a68" opacity="0.6" filter="url(#blur2)"/><ellipse cx="58" cy="56" rx="4" ry="3" fill="#d8c890" opacity="0.7" filter="url(#blur1)"/><ellipse cx="32" cy="24" rx="10" ry="6" fill="#8c8058" opacity="0.6" filter="url(#blur2)"/><ellipse cx="88" cy="64" rx="6" ry="5" fill="#b8aa78" opacity="0.6" filter="url(#blur2)"/><ellipse cx="40" cy="84" rx="9" ry="3" fill="#a89a68" opacity="0.7" filter="url(#blur1)"/><ellipse cx="76" cy="85" rx="8" ry="3" fill="#a89a68" opacity="0.7" filter="url(#blur1)"/><ellipse cx="12" cy="40" rx="5" ry="5" fill="#6a4a38" opacity="0.3" filter="url(#blur1)"/><path d="M19,50 C28,56 44,54 52,42" fill="none" stroke="#5a3a2a" stroke-width="2.5" opacity="0.8" filter="url(#blur1)"/><ellipse cx="47" cy="28" rx="4.5" ry="3.5" fill="#a8b0c0" opacity="0.75" filter="url(#blur1)"/><ellipse cx="50" cy="34" rx="4" ry="2.5" fill="#c8a8a0" opacity="0.6" filter="url(#blur1)"/></g><ellipse cx="71.5" cy="28" rx="2.3" ry="2.1" fill="#000"/><circle cx="33" cy="35.5" r="1.3" fill="#15110c"/><circle cx="63" cy="65.5" r="1.3" fill="#3a2010"/></g>
<rect x="59.30" y="533.80" width="116.00" height="98.70" fill="#000"/>
<g transform="translate(59.30,533.80) scale(1.0000,0.9970)"><path d="M16.50,8.50 C18.96,7.54 19.57,8.32 25.00,8.80 C30.43,9.28 29.80,8.39 34.60,10.10 C39.40,11.81 36.98,10.99 41.00,14.50 C45.02,18.01 44.55,17.75 48.00,21.80 C51.45,25.85 50.10,25.90 52.50,28.00 C54.90,30.10 54.05,28.95 56.00,28.80 C57.95,28.65 57.05,28.70 59.00,27.50 C60.95,26.30 60.25,26.21 62.50,24.80 C64.75,23.39 63.95,23.58 66.50,22.80 C69.05,22.02 68.30,22.14 71.00,22.20 C73.70,22.26 73.10,22.01 75.50,23.00 C77.90,23.99 77.41,23.40 79.00,25.50 C80.59,27.60 78.70,28.20 80.80,30.00 C82.90,31.80 82.46,30.30 86.00,31.50 C89.54,32.70 89.00,32.05 92.60,34.00 C96.20,35.95 95.18,35.06 98.00,38.00 C100.82,40.94 99.90,40.20 102.00,43.80 C104.10,47.40 103.74,46.04 105.00,50.00 C106.26,53.96 105.96,52.80 106.20,57.00 C106.44,61.20 106.46,59.80 105.80,64.00 C105.14,68.20 105.44,66.95 104.00,71.00 C102.56,75.05 103.40,73.90 101.00,77.50 C98.60,81.10 99.30,80.30 96.00,83.00 C92.70,85.70 94.80,84.85 90.00,86.50 C85.20,88.15 86.00,87.69 80.00,88.50 C74.00,89.31 74.29,88.99 70.00,89.20 C65.71,89.41 68.40,89.71 65.70,89.20 C63.00,88.69 63.46,88.25 61.00,87.50 C58.54,86.75 59.90,86.31 57.50,86.70 C55.10,87.09 56.45,87.81 53.00,88.80 C49.55,89.79 51.70,89.64 46.00,90.00 C40.30,90.36 40.90,90.24 34.00,90.00 C27.10,89.76 27.95,89.95 23.00,89.20 C18.05,88.45 19.69,89.66 17.50,87.50 C15.31,85.34 16.15,85.96 15.70,82.00 C15.25,78.04 15.46,79.10 16.00,74.30 C16.54,69.50 16.87,69.93 17.50,66.00 C18.13,62.07 17.95,64.50 18.10,61.20 C18.25,57.90 18.24,57.97 18.00,55.00 C17.76,52.03 18.80,53.40 17.30,51.30 C15.80,49.20 15.49,50.19 13.00,48.00 C10.51,45.81 10.68,46.46 9.00,44.00 C7.32,41.54 7.25,42.80 7.40,39.80 C7.55,36.80 8.03,36.97 9.50,34.00 C10.97,31.03 10.50,33.20 12.30,29.90 C14.10,26.60 14.00,26.93 15.50,23.00 C17.00,19.07 16.91,20.10 17.30,16.80 C17.69,13.50 17.04,14.49 16.80,12.00 C16.56,9.51 14.04,9.46 16.50,8.50 Z" fill="#fff"/></g>
<rect x="93.80" y="549.00" width="116.20" height="98.50" fill="#000"/>
<g transform="translate(93.80,549.00) scale(1.0017,0.9949)"><path d="M17.00,7.40 C18.59,6.41 17.50,8.06 20.50,9.20 C23.50,10.34 22.95,10.00 27.00,11.20 C31.05,12.40 29.80,11.61 34.00,13.20 C38.20,14.79 36.95,13.86 41.00,16.50 C45.05,19.14 44.05,18.55 47.50,22.00 C50.95,25.45 49.95,25.96 52.50,28.00 C55.05,30.04 54.05,28.95 56.00,28.80 C57.95,28.65 57.05,28.70 59.00,27.50 C60.95,26.30 60.25,26.21 62.50,24.80 C64.75,23.39 63.95,23.58 66.50,22.80 C69.05,22.02 68.30,22.14 71.00,22.20 C73.70,22.26 73.10,22.01 75.50,23.00 C77.90,23.99 77.41,23.40 79.00,25.50 C80.59,27.60 78.70,28.20 80.80,30.00 C82.90,31.80 82.46,30.30 86.00,31.50 C89.54,32.70 89.00,32.05 92.60,34.00 C96.20,35.95 95.18,35.06 98.00,38.00 C100.82,40.94 99.90,40.20 102.00,43.80 C104.10,47.40 103.74,46.04 105.00,50.00 C106.26,53.96 105.96,52.80 106.20,57.00 C106.44,61.20 106.46,59.80 105.80,64.00 C105.14,68.20 105.44,66.95 104.00,71.00 C102.56,75.05 103.25,74.05 101.00,77.50 C98.75,80.95 99.80,79.95 96.50,82.50 C93.20,85.05 94.35,84.41 90.00,86.00 C85.65,87.59 87.40,87.11 82.00,87.80 C76.60,88.49 77.40,88.48 72.00,88.30 C66.60,88.12 68.05,88.25 64.00,87.20 C59.95,86.15 61.50,84.92 58.50,84.80 C55.50,84.68 57.15,85.84 54.00,86.80 C50.85,87.76 52.20,87.52 48.00,88.00 C43.80,88.48 45.10,88.40 40.00,88.40 C34.90,88.40 36.10,88.66 31.00,88.00 C25.90,87.34 27.05,87.85 23.00,86.20 C18.95,84.55 19.90,85.56 17.50,82.50 C15.10,79.44 15.81,80.05 15.00,76.00 C14.19,71.95 14.44,73.20 14.80,69.00 C15.16,64.80 15.30,65.90 16.20,62.00 C17.10,58.10 17.17,59.15 17.80,56.00 C18.43,52.85 19.74,54.05 18.30,51.50 C16.86,48.95 15.79,49.75 13.00,47.50 C10.21,45.25 10.71,46.55 9.00,44.00 C7.29,41.45 7.60,42.00 7.30,39.00 C7.00,36.00 7.04,37.00 8.00,34.00 C8.96,31.00 8.85,32.00 10.50,29.00 C12.15,26.00 12.15,27.30 13.50,24.00 C14.85,20.70 14.49,21.45 15.00,18.00 C15.51,14.55 14.60,15.68 15.20,12.50 C15.80,9.32 15.41,8.39 17.00,7.40 Z" fill="url(#goldg)"/><g clip-path="url(#catclip)"><path d="M17.00,7.40 C18.59,6.41 17.50,8.06 20.50,9.20 C23.50,10.34 22.95,10.00 27.00,11.20 C31.05,12.40 29.80,11.61 34.00,13.20 C38.20,14.79 36.95,13.86 41.00,16.50 C45.05,19.14 44.05,18.55 47.50,22.00 C50.95,25.45 49.95,25.96 52.50,28.00 C55.05,30.04 54.05,28.95 56.00,28.80 C57.95,28.65 57.05,28.70 59.00,27.50 C60.95,26.30 60.25,26.21 62.50,24.80 C64.75,23.39 63.95,23.58 66.50,22.80 C69.05,22.02 68.30,22.14 71.00,22.20 C73.70,22.26 73.10,22.01 75.50,23.00 C77.90,23.99 77.41,23.40 79.00,25.50 C80.59,27.60 78.70,28.20 80.80,30.00 C82.90,31.80 82.46,30.30 86.00,31.50 C89.54,32.70 89.00,32.05 92.60,34.00 C96.20,35.95 95.18,35.06 98.00,38.00 C100.82,40.94 99.90,40.20 102.00,43.80 C104.10,47.40 103.74,46.04 105.00,50.00 C106.26,53.96 105.96,52.80 106.20,57.00 C106.44,61.20 106.46,59.80 105.80,64.00 C105.14,68.20 105.44,66.95 104.00,71.00 C102.56,75.05 103.25,74.05 101.00,77.50 C98.75,80.95 99.80,79.95 96.50,82.50 C93.20,85.05 94.35,84.41 90.00,86.00 C85.65,87.59 87.40,87.11 82.00,87.80 C76.60,88.49 77.40,88.48 72.00,88.30 C66.60,88.12 68.05,88.25 64.00,87.20 C59.95,86.15 61.50,84.92 58.50,84.80 C55.50,84.68 57.15,85.84 54.00,86.80 C50.85,87.76 52.20,87.52 48.00,88.00 C43.80,88.48 45.10,88.40 40.00,88.40 C34.90,88.40 36.10,88.66 31.00,88.00 C25.90,87.34 27.05,87.85 23.00,86.20 C18.95,84.55 19.90,85.56 17.50,82.50 C15.10,79.44 15.81,80.05 15.00,76.00 C14.19,71.95 14.44,73.20 14.80,69.00 C15.16,64.80 15.30,65.90 16.20,62.00 C17.10,58.10 17.17,59.15 17.80,56.00 C18.43,52.85 19.74,54.05 18.30,51.50 C16.86,48.95 15.79,49.75 13.00,47.50 C10.21,45.25 10.71,46.55 9.00,44.00 C7.29,41.45 7.60,42.00 7.30,39.00 C7.00,36.00 7.04,37.00 8.00,34.00 C8.96,31.00 8.85,32.00 10.50,29.00 C12.15,26.00 12.15,27.30 13.50,24.00 C14.85,20.70 14.49,21.45 15.00,18.00 C15.51,14.55 14.60,15.68 15.20,12.50 C15.80,9.32 15.41,8.39 17.00,7.40 Z" fill="none" stroke="#15130e" stroke-width="5" opacity="0.75" filter="url(#blur1)"/><ellipse cx="62" cy="58" rx="12" ry="8" fill="#a89a68" opacity="0.6" filter="url(#blur2)"/><ellipse cx="58" cy="56" rx="4" ry="3" fill="#d8c890" opacity="0.7" filter="url(#blur1)"/><ellipse cx="32" cy="24" rx="10" ry="6" fill="#8c8058" opacity="0.6" filter="url(#blur2)"/><ellipse cx="88" cy="64" rx="6" ry="5" fill="#b8aa78" opacity="0.6" filter="url(#blur2)"/><ellipse cx="40" cy="84" rx="9" ry="3" fill="#a89a68" opacity="0.7" filter="url(#blur1)"/><ellipse cx="76" cy="85" rx="8" ry="3" fill="#a89a68" opacity="0.7" filter="url(#blur1)"/><ellipse cx="12" cy="40" rx="5" ry="5" fill="#6a4a38" opacity="0.3" filter="url(#blur1)"/><path d="M19,50 C28,56 44,54 52,42" fill="none" stroke="#5a3a2a" stroke-width="2.5" opacity="0.8" filter="url(#blur1)"/><ellipse cx="47" cy="28" rx="4.5" ry="3.5" fill="#a8b0c0" opacity="0.75" filter="url(#blur1)"/><ellipse cx="50" cy="34" rx="4" ry="2.5" fill="#c8a8a0" opacity="0.6" filter="url(#blur1)"/></g><ellipse cx="71.5" cy="28" rx="2.3" ry="2.1" fill="#000"/><circle cx="33" cy="35.5" r="1.3" fill="#15110c"/><circle cx="63" cy="65.5" r="1.3" fill="#3a2010"/></g>
<polyline points="62.10,387.60 51.60,389.10 51.60,511.30 62.10,512.80" fill="none" stroke="#555" stroke-width="1.3"/>
<polyline points="210.70,387.60 221.20,389.10 221.20,511.30 210.70,512.80" fill="none" stroke="#555" stroke-width="1.3"/>
<polyline points="60.30,527.30 49.80,528.80 49.80,651.70 60.30,653.20" fill="none" stroke="#555" stroke-width="1.3"/>
<polyline points="209.40,527.30 219.90,528.80 219.90,651.70 209.40,653.20" fill="none" stroke="#555" stroke-width="1.3"/>
<polyline points="221.20,449.60 240.80,449.60" fill="none" stroke="#111" stroke-width="1.2"/>
<polygon points="247.80,449.60 239.80,453.60 239.80,445.60" fill="#111"/>
<polyline points="219.90,590.00 240.80,589.63" fill="none" stroke="#111" stroke-width="1.2"/>
<polygon points="247.80,589.50 239.87,593.64 239.73,585.64" fill="#111"/>
<path d="M248.3,427 H473.6 V472.7 H436.3 V566.5 H473.6 V612 H248.3 V566.5 H284.3 V472.7 H248.3 Z" fill="#d9d9d9" stroke="#b5b5b5" stroke-width="1.2"/>
<text x="305.00" y="535.00" text-anchor="start" font-family='"Liberation Sans", sans-serif' font-size="40" font-weight="normal" font-style="normal" fill="#111" textLength="95.5" lengthAdjust="spacingAndGlyphs" >L-Net</text>
<text x="403.00" y="545.50" text-anchor="start" font-family='"Liberation Sans", sans-serif' font-size="27" font-weight="normal" font-style="normal" fill="#111" >1</text>
<circle cx="250.4" cy="506.7" r="1.6" fill="#111"/>
<circle cx="250.4" cy="519.6" r="1.6" fill="#111"/>
<circle cx="250.4" cy="531" r="1.6" fill="#111"/>
<circle cx="468.3" cy="506.7" r="1.6" fill="#111"/>
<circle cx="468.3" cy="519.6" r="1.6" fill="#111"/>
<circle cx="468.3" cy="531" r="1.6" fill="#111"/>
<rect x="492.55" y="411.60" width="19.35" height="18.10" fill="#f8e4d6" stroke="#3b302a" stroke-width="1.5"/>
<rect x="492.55" y="441.00" width="19.35" height="18.20" fill="#f8e4d6" stroke="#3b302a" stroke-width="1.5"/>
<rect x="492.55" y="579.70" width="19.35" height="18.00" fill="#f8e4d6" stroke="#3b302a" stroke-width="1.5"/>
<rect x="492.55" y="609.00" width="19.35" height="18.00" fill="#f8e4d6" stroke="#3b302a" stroke-width="1.5"/>
<polyline points="474.00,449.60 488.47,429.75" fill="none" stroke="#111" stroke-width="1.2"/>
<polygon points="492.30,424.50 491.11,432.92 484.65,428.20" fill="#111"/>
<polyline points="474.00,449.60 485.80,449.73" fill="none" stroke="#111" stroke-width="1.2"/>
<polygon points="492.30,449.80 484.76,453.72 484.84,445.72" fill="#111"/>
<polyline points="512.20,420.70 523.00,420.70" fill="none" stroke="#111" stroke-width="1.2"/>
<polygon points="529.50,420.70 522.00,424.70 522.00,416.70" fill="#111"/>
<polyline points="551.00,429.50 563.52,437.50" fill="none" stroke="#555" stroke-width="1.2"/>
<polygon points="569.00,441.00 560.53,440.33 564.83,433.59" fill="#555"/>
<polyline points="512.20,449.80 557.90,449.62" fill="none" stroke="#111" stroke-width="1.2"/>
<polygon points="564.40,449.60 556.92,453.63 556.88,445.63" fill="#111"/>
<polyline points="590.40,449.60 606.51,450.24" fill="none" stroke="#111" stroke-width="1.2"/>
<polygon points="613.00,450.50 605.35,454.20 605.67,446.20" fill="#111"/>
<polyline points="474.00,589.00 486.20,588.67" fill="none" stroke="#111" stroke-width="1.2"/>
<polygon points="492.70,588.50 485.31,592.70 485.10,584.70" fill="#111"/>
<polyline points="474.00,589.00 489.16,612.35" fill="none" stroke="#111" stroke-width="1.2"/>
<polygon points="492.70,617.80 485.26,613.69 491.97,609.33" fill="#111"/>
<polyline points="512.30,617.80 523.30,617.93" fill="none" stroke="#111" stroke-width="1.2"/>
<polygon points="529.80,618.00 522.25,621.91 522.35,613.91" fill="#111"/>
<polyline points="552.00,609.00 563.54,601.53" fill="none" stroke="#111" stroke-width="1.2"/>
<polygon points="569.00,598.00 564.88,605.43 560.53,598.72" fill="#111"/>
<polyline points="512.30,588.50 558.50,589.03" fill="none" stroke="#111" stroke-width="1.2"/>
<polygon points="565.00,589.10 557.45,593.01 557.55,585.01" fill="#111"/>
<polyline points="591.00,589.10 606.50,589.10" fill="none" stroke="#111" stroke-width="1.2"/>
<polygon points="613.00,589.10 605.50,593.10 605.50,585.10" fill="#111"/>
<circle cx="542" cy="420.7" r="12.5" fill="#fff" stroke="#111" stroke-width="1.3"/>
<text x="542.00" y="427.40" text-anchor="middle" font-family='"Liberation Sans", sans-serif' font-size="17" font-weight="normal" font-style="normal" fill="#111" textLength="9.21" lengthAdjust="spacingAndGlyphs" >N</text>
<circle cx="577.4" cy="449.5" r="12.8" fill="#fff" stroke="#111" stroke-width="1.3"/>
<text x="577.40" y="456.39" text-anchor="middle" font-family='"Liberation Sans", sans-serif' font-size="17.5" font-weight="normal" font-style="normal" fill="#111" textLength="9.48" lengthAdjust="spacingAndGlyphs" >C</text>
<circle cx="578" cy="589.1" r="12.8" fill="#fff" stroke="#111" stroke-width="1.3"/>
<text x="578.00" y="596.00" text-anchor="middle" font-family='"Liberation Sans", sans-serif' font-size="17.5" font-weight="normal" font-style="normal" fill="#111" textLength="9.48" lengthAdjust="spacingAndGlyphs" >C</text>
<circle cx="542.8" cy="618.2" r="12.8" fill="#fff" stroke="#111" stroke-width="1.3"/>
<text x="542.80" y="624.90" text-anchor="middle" font-family='"Liberation Sans", sans-serif' font-size="17" font-weight="normal" font-style="normal" fill="#111" textLength="9.21" lengthAdjust="spacingAndGlyphs" >N</text>
<text x="495.43" y="404.10" font-family='"Liberation Serif", serif' font-size="24.95" font-style="italic" font-weight="normal" fill="#111" >e</text>
<text x="506.15" y="409.70" font-family='"Liberation Serif", serif' font-size="16.52" font-style="normal" font-weight="normal" fill="#111" >1</text>
<text x="496.85" y="483.80" font-family='"Liberation Serif", serif' font-size="24.93" font-style="italic" font-weight="bold" fill="#111" stroke="#111" stroke-width="0.7">l</text>
<text x="505.51" y="488.80" font-family='"Liberation Serif", serif' font-size="16.97" font-style="normal" font-weight="normal" fill="#111" >1</text>
<text x="495.06" y="567.60" font-family='"Liberation Serif", serif' font-size="24.50" font-style="italic" font-weight="bold" fill="#111" stroke="#111" stroke-width="0.7">l</text>
<text x="503.89" y="572.60" font-family='"Liberation Serif", serif' font-size="17.40" font-style="italic" font-weight="normal" fill="#111" >F</text>
<text x="494.56" y="649.70" font-family='"Liberation Serif", serif' font-size="23.91" font-style="italic" font-weight="normal" fill="#111" >e</text>
<text x="507.08" y="655.60" font-family='"Liberation Serif", serif' font-size="16.64" font-style="italic" font-weight="normal" fill="#111" >F</text>
<path d="M613.5,427.5 H802.2 V497.5 H839.4 V543.1 H802.2 V612.8 H613.5 V566.8 H650.2 V472.8 H613.5 Z" fill="#f8e4d6" stroke="#b9aca2" stroke-width="1.2"/>
<text x="672.50" y="535.60" text-anchor="start" font-family='"Liberation Sans", sans-serif' font-size="40" font-weight="normal" font-style="normal" fill="#111" textLength="104.5" lengthAdjust="spacingAndGlyphs" >N-Net</text>
<circle cx="615.4" cy="508.3" r="1.6" fill="#111"/>
<circle cx="615.4" cy="520.1" r="1.6" fill="#111"/>
<circle cx="615.4" cy="530.3" r="1.6" fill="#111"/>
<polyline points="839.70,520.30 859.80,520.30" fill="none" stroke="#111" stroke-width="1.2"/>
<polygon points="866.80,520.30 858.80,524.40 858.80,516.20" fill="#111"/>
<rect x="867.00" y="472.00" width="114.30" height="97.00" fill="#000"/>
<g transform="translate(867.00,472.00) scale(0.9853,0.9798)"><path d="M17.00,7.40 C18.59,6.41 17.50,8.06 20.50,9.20 C23.50,10.34 22.95,10.00 27.00,11.20 C31.05,12.40 29.80,11.61 34.00,13.20 C38.20,14.79 36.95,13.86 41.00,16.50 C45.05,19.14 44.05,18.55 47.50,22.00 C50.95,25.45 49.95,25.96 52.50,28.00 C55.05,30.04 54.05,28.95 56.00,28.80 C57.95,28.65 57.05,28.70 59.00,27.50 C60.95,26.30 60.25,26.21 62.50,24.80 C64.75,23.39 63.95,23.58 66.50,22.80 C69.05,22.02 68.30,22.14 71.00,22.20 C73.70,22.26 73.10,22.01 75.50,23.00 C77.90,23.99 77.41,23.40 79.00,25.50 C80.59,27.60 78.70,28.20 80.80,30.00 C82.90,31.80 82.46,30.30 86.00,31.50 C89.54,32.70 89.00,32.05 92.60,34.00 C96.20,35.95 95.18,35.06 98.00,38.00 C100.82,40.94 99.90,40.20 102.00,43.80 C104.10,47.40 103.74,46.04 105.00,50.00 C106.26,53.96 105.96,52.80 106.20,57.00 C106.44,61.20 106.46,59.80 105.80,64.00 C105.14,68.20 105.44,66.95 104.00,71.00 C102.56,75.05 103.25,74.05 101.00,77.50 C98.75,80.95 99.80,79.95 96.50,82.50 C93.20,85.05 94.35,84.41 90.00,86.00 C85.65,87.59 87.40,87.11 82.00,87.80 C76.60,88.49 77.40,88.48 72.00,88.30 C66.60,88.12 68.05,88.25 64.00,87.20 C59.95,86.15 61.50,84.92 58.50,84.80 C55.50,84.68 57.15,85.84 54.00,86.80 C50.85,87.76 52.20,87.52 48.00,88.00 C43.80,88.48 45.10,88.40 40.00,88.40 C34.90,88.40 36.10,88.66 31.00,88.00 C25.90,87.34 27.05,87.85 23.00,86.20 C18.95,84.55 19.90,85.56 17.50,82.50 C15.10,79.44 15.81,80.05 15.00,76.00 C14.19,71.95 14.44,73.20 14.80,69.00 C15.16,64.80 15.30,65.90 16.20,62.00 C17.10,58.10 17.17,59.15 17.80,56.00 C18.43,52.85 19.74,54.05 18.30,51.50 C16.86,48.95 15.79,49.75 13.00,47.50 C10.21,45.25 10.71,46.55 9.00,44.00 C7.29,41.45 7.60,42.00 7.30,39.00 C7.00,36.00 7.04,37.00 8.00,34.00 C8.96,31.00 8.85,32.00 10.50,29.00 C12.15,26.00 12.15,27.30 13.50,24.00 C14.85,20.70 14.49,21.45 15.00,18.00 C15.51,14.55 14.60,15.68 15.20,12.50 C15.80,9.32 15.41,8.39 17.00,7.40 Z" fill="url(#nrmg)"/><g clip-path="url(#catclip)"><ellipse cx="107" cy="60" rx="15" ry="30" fill="#f070c8" opacity="0.9" filter="url(#blur3)"/><ellipse cx="10" cy="40" rx="7" ry="9" fill="#6a68f8" opacity="0.8" filter="url(#blur2)"/><ellipse cx="33" cy="44" rx="14" ry="7" fill="#b878ec" opacity="0.45" filter="url(#blur2)"/><path d="M18,50 C28,57 44,55 53,42" fill="none" stroke="#d070d8" stroke-width="2.5" opacity="0.8" filter="url(#blur1)"/><ellipse cx="45" cy="28" rx="4.5" ry="4.5" fill="#8a8cf4" opacity="0.9" filter="url(#blur1)"/><ellipse cx="48" cy="35" rx="5" ry="3.5" fill="#c070e0" opacity="0.8" filter="url(#blur1)"/><ellipse cx="42" cy="85" rx="12" ry="4" fill="#9aa4f8" opacity="0.8" filter="url(#blur1)"/><ellipse cx="75" cy="85" rx="12" ry="4" fill="#9aa4f8" opacity="0.8" filter="url(#blur1)"/><ellipse cx="94" cy="72" rx="7" ry="3.5" fill="#e878c8" opacity="0.9" filter="url(#blur1)"/></g><ellipse cx="71.5" cy="27.5" rx="2.3" ry="2.1" fill="#000"/></g>
<rect x="894.25" y="395.90" width="61.35" height="47.30" fill="#d9d9d9" stroke="#151515" stroke-width="1.5"/>
<rect x="893.75" y="597.50" width="61.25" height="47.50" fill="#d9d9d9" stroke="#151515" stroke-width="1.5"/>
<text x="906.71" y="430.80" font-family='"Liberation Serif", serif' font-size="28.66" font-style="italic" font-weight="bold" fill="#111" stroke="#111" stroke-width="0.5">n</text>
<text x="924.12" y="422.40" font-family='"Liberation Sans", sans-serif' font-size="16.28" font-style="normal" font-weight="bold" fill="#111" textLength="8.8" lengthAdjust="spacingAndGlyphs">T</text>
<text x="934.47" y="430.80" font-family='"Liberation Serif", serif' font-size="28.82" font-style="italic" font-weight="bold" fill="#111" stroke="#111" stroke-width="0.5">l</text>
<text x="906.71" y="632.40" font-family='"Liberation Serif", serif' font-size="28.66" font-style="italic" font-weight="bold" fill="#111" stroke="#111" stroke-width="0.5">n</text>
<text x="924.12" y="624.00" font-family='"Liberation Sans", sans-serif' font-size="16.28" font-style="normal" font-weight="bold" fill="#111" textLength="8.8" lengthAdjust="spacingAndGlyphs">T</text>
<text x="934.47" y="632.40" font-family='"Liberation Serif", serif' font-size="28.82" font-style="italic" font-weight="bold" fill="#111" stroke="#111" stroke-width="0.5">l</text>
<text x="846.04" y="432.10" font-family='"Liberation Serif", serif' font-size="25.36" font-style="italic" font-weight="bold" fill="#111" stroke="#111" stroke-width="0.7">l</text>
<text x="853.23" y="436.90" font-family='"Liberation Serif", serif' font-size="16.67" font-style="normal" font-weight="normal" fill="#111" >1</text>
<text x="845.35" y="633.80" font-family='"Liberation Serif", serif' font-size="24.93" font-style="italic" font-weight="bold" fill="#111" stroke="#111" stroke-width="0.7">l</text>
<text x="854.09" y="639.70" font-family='"Liberation Serif", serif' font-size="17.40" font-style="italic" font-weight="normal" fill="#111" >F</text>
<polyline points="861.80,419.50 887.00,419.50" fill="none" stroke="#111" stroke-width="1.2"/>
<polygon points="894.00,419.50 886.00,423.60 886.00,415.40" fill="#111"/>
<polyline points="862.70,622.70 886.50,622.70" fill="none" stroke="#111" stroke-width="1.2"/>
<polygon points="893.50,622.70 885.50,626.80 885.50,618.60" fill="#111"/>
<polyline points="924.80,472.00 924.80,450.50" fill="none" stroke="#111" stroke-width="1.2"/>
<polygon points="924.80,443.50 928.90,451.50 920.70,451.50" fill="#111"/>
<polyline points="924.40,569.00 924.40,590.40" fill="none" stroke="#111" stroke-width="1.2"/>
<polygon points="924.40,597.40 920.30,589.40 928.50,589.40" fill="#111"/>
<polyline points="956.00,419.50 982.20,419.50" fill="none" stroke="#111" stroke-width="1.2"/>
<polygon points="989.20,419.50 981.20,423.60 981.20,415.40" fill="#111"/>
<polyline points="955.30,621.40 981.30,621.40" fill="none" stroke="#111" stroke-width="1.2"/>
<polygon points="988.30,621.40 980.30,625.50 980.30,617.30" fill="#111"/>
<rect x="989.20" y="371.00" width="114.90" height="97.00" fill="#000"/>
<g transform="translate(989.20,371.00) scale(0.9905,0.9798)"><path d="M17.00,7.40 C18.59,6.41 17.50,8.06 20.50,9.20 C23.50,10.34 22.95,10.00 27.00,11.20 C31.05,12.40 29.80,11.61 34.00,13.20 C38.20,14.79 36.95,13.86 41.00,16.50 C45.05,19.14 44.05,18.55 47.50,22.00 C50.95,25.45 49.95,25.96 52.50,28.00 C55.05,30.04 54.05,28.95 56.00,28.80 C57.95,28.65 57.05,28.70 59.00,27.50 C60.95,26.30 60.25,26.21 62.50,24.80 C64.75,23.39 63.95,23.58 66.50,22.80 C69.05,22.02 68.30,22.14 71.00,22.20 C73.70,22.26 73.10,22.01 75.50,23.00 C77.90,23.99 77.41,23.40 79.00,25.50 C80.59,27.60 78.70,28.20 80.80,30.00 C82.90,31.80 82.46,30.30 86.00,31.50 C89.54,32.70 89.00,32.05 92.60,34.00 C96.20,35.95 95.18,35.06 98.00,38.00 C100.82,40.94 99.90,40.20 102.00,43.80 C104.10,47.40 103.74,46.04 105.00,50.00 C106.26,53.96 105.96,52.80 106.20,57.00 C106.44,61.20 106.46,59.80 105.80,64.00 C105.14,68.20 105.44,66.95 104.00,71.00 C102.56,75.05 103.25,74.05 101.00,77.50 C98.75,80.95 99.80,79.95 96.50,82.50 C93.20,85.05 94.35,84.41 90.00,86.00 C85.65,87.59 87.40,87.11 82.00,87.80 C76.60,88.49 77.40,88.48 72.00,88.30 C66.60,88.12 68.05,88.25 64.00,87.20 C59.95,86.15 61.50,84.92 58.50,84.80 C55.50,84.68 57.15,85.84 54.00,86.80 C50.85,87.76 52.20,87.52 48.00,88.00 C43.80,88.48 45.10,88.40 40.00,88.40 C34.90,88.40 36.10,88.66 31.00,88.00 C25.90,87.34 27.05,87.85 23.00,86.20 C18.95,84.55 19.90,85.56 17.50,82.50 C15.10,79.44 15.81,80.05 15.00,76.00 C14.19,71.95 14.44,73.20 14.80,69.00 C15.16,64.80 15.30,65.90 16.20,62.00 C17.10,58.10 17.17,59.15 17.80,56.00 C18.43,52.85 19.74,54.05 18.30,51.50 C16.86,48.95 15.79,49.75 13.00,47.50 C10.21,45.25 10.71,46.55 9.00,44.00 C7.29,41.45 7.60,42.00 7.30,39.00 C7.00,36.00 7.04,37.00 8.00,34.00 C8.96,31.00 8.85,32.00 10.50,29.00 C12.15,26.00 12.15,27.30 13.50,24.00 C14.85,20.70 14.49,21.45 15.00,18.00 C15.51,14.55 14.60,15.68 15.20,12.50 C15.80,9.32 15.41,8.39 17.00,7.40 Z" fill="url(#whiteg)"/><g clip-path="url(#catclip)"><path d="M17.00,7.40 C18.59,6.41 17.50,8.06 20.50,9.20 C23.50,10.34 22.95,10.00 27.00,11.20 C31.05,12.40 29.80,11.61 34.00,13.20 C38.20,14.79 36.95,13.86 41.00,16.50 C45.05,19.14 44.05,18.55 47.50,22.00 C50.95,25.45 49.95,25.96 52.50,28.00 C55.05,30.04 54.05,28.95 56.00,28.80 C57.95,28.65 57.05,28.70 59.00,27.50 C60.95,26.30 60.25,26.21 62.50,24.80 C64.75,23.39 63.95,23.58 66.50,22.80 C69.05,22.02 68.30,22.14 71.00,22.20 C73.70,22.26 73.10,22.01 75.50,23.00 C77.90,23.99 77.41,23.40 79.00,25.50 C80.59,27.60 78.70,28.20 80.80,30.00 C82.90,31.80 82.46,30.30 86.00,31.50 C89.54,32.70 89.00,32.05 92.60,34.00 C96.20,35.95 95.18,35.06 98.00,38.00 C100.82,40.94 99.90,40.20 102.00,43.80 C104.10,47.40 103.74,46.04 105.00,50.00 C106.26,53.96 105.96,52.80 106.20,57.00 C106.44,61.20 106.46,59.80 105.80,64.00 C105.14,68.20 105.44,66.95 104.00,71.00 C102.56,75.05 103.25,74.05 101.00,77.50 C98.75,80.95 99.80,79.95 96.50,82.50 C93.20,85.05 94.35,84.41 90.00,86.00 C85.65,87.59 87.40,87.11 82.00,87.80 C76.60,88.49 77.40,88.48 72.00,88.30 C66.60,88.12 68.05,88.25 64.00,87.20 C59.95,86.15 61.50,84.92 58.50,84.80 C55.50,84.68 57.15,85.84 54.00,86.80 C50.85,87.76 52.20,87.52 48.00,88.00 C43.80,88.48 45.10,88.40 40.00,88.40 C34.90,88.40 36.10,88.66 31.00,88.00 C25.90,87.34 27.05,87.85 23.00,86.20 C18.95,84.55 19.90,85.56 17.50,82.50 C15.10,79.44 15.81,80.05 15.00,76.00 C14.19,71.95 14.44,73.20 14.80,69.00 C15.16,64.80 15.30,65.90 16.20,62.00 C17.10,58.10 17.17,59.15 17.80,56.00 C18.43,52.85 19.74,54.05 18.30,51.50 C16.86,48.95 15.79,49.75 13.00,47.50 C10.21,45.25 10.71,46.55 9.00,44.00 C7.29,41.45 7.60,42.00 7.30,39.00 C7.00,36.00 7.04,37.00 8.00,34.00 C8.96,31.00 8.85,32.00 10.50,29.00 C12.15,26.00 12.15,27.30 13.50,24.00 C14.85,20.70 14.49,21.45 15.00,18.00 C15.51,14.55 14.60,15.68 15.20,12.50 C15.80,9.32 15.41,8.39 17.00,7.40 Z" fill="none" stroke="#707070" stroke-width="4" opacity="0.6" filter="url(#blur1)"/><path d="M18,50 C28,57 44,55 53,42" fill="none" stroke="#8a8a8a" stroke-width="2" opacity="0.7" filter="url(#blur1)"/><ellipse cx="47" cy="31" rx="5" ry="5" fill="#bdbdbd" opacity="0.7" filter="url(#blur1)"/><path d="M56,85 C58,75 60,70 64,66" fill="none" stroke="#a0a0a0" stroke-width="2" opacity="0.6" filter="url(#blur1)"/><ellipse cx="100" cy="60" rx="7" ry="20" fill="#9c9c9c" opacity="0.35" filter="url(#blur2)"/><ellipse cx="90" cy="74" rx="6" ry="3" fill="#d8d8d8" opacity="0.9" filter="url(#blur1)"/></g><ellipse cx="71.5" cy="28.5" rx="2.4" ry="2.2" fill="#000"/></g>
<rect x="988.20" y="573.20" width="114.70" height="97.30" fill="#000"/>
<g transform="translate(988.20,573.20) scale(0.9888,0.9828)"><path d="M17.00,7.40 C18.59,6.41 17.50,8.06 20.50,9.20 C23.50,10.34 22.95,10.00 27.00,11.20 C31.05,12.40 29.80,11.61 34.00,13.20 C38.20,14.79 36.95,13.86 41.00,16.50 C45.05,19.14 44.05,18.55 47.50,22.00 C50.95,25.45 49.95,25.96 52.50,28.00 C55.05,30.04 54.05,28.95 56.00,28.80 C57.95,28.65 57.05,28.70 59.00,27.50 C60.95,26.30 60.25,26.21 62.50,24.80 C64.75,23.39 63.95,23.58 66.50,22.80 C69.05,22.02 68.30,22.14 71.00,22.20 C73.70,22.26 73.10,22.01 75.50,23.00 C77.90,23.99 77.41,23.40 79.00,25.50 C80.59,27.60 78.70,28.20 80.80,30.00 C82.90,31.80 82.46,30.30 86.00,31.50 C89.54,32.70 89.00,32.05 92.60,34.00 C96.20,35.95 95.18,35.06 98.00,38.00 C100.82,40.94 99.90,40.20 102.00,43.80 C104.10,47.40 103.74,46.04 105.00,50.00 C106.26,53.96 105.96,52.80 106.20,57.00 C106.44,61.20 106.46,59.80 105.80,64.00 C105.14,68.20 105.44,66.95 104.00,71.00 C102.56,75.05 103.25,74.05 101.00,77.50 C98.75,80.95 99.80,79.95 96.50,82.50 C93.20,85.05 94.35,84.41 90.00,86.00 C85.65,87.59 87.40,87.11 82.00,87.80 C76.60,88.49 77.40,88.48 72.00,88.30 C66.60,88.12 68.05,88.25 64.00,87.20 C59.95,86.15 61.50,84.92 58.50,84.80 C55.50,84.68 57.15,85.84 54.00,86.80 C50.85,87.76 52.20,87.52 48.00,88.00 C43.80,88.48 45.10,88.40 40.00,88.40 C34.90,88.40 36.10,88.66 31.00,88.00 C25.90,87.34 27.05,87.85 23.00,86.20 C18.95,84.55 19.90,85.56 17.50,82.50 C15.10,79.44 15.81,80.05 15.00,76.00 C14.19,71.95 14.44,73.20 14.80,69.00 C15.16,64.80 15.30,65.90 16.20,62.00 C17.10,58.10 17.17,59.15 17.80,56.00 C18.43,52.85 19.74,54.05 18.30,51.50 C16.86,48.95 15.79,49.75 13.00,47.50 C10.21,45.25 10.71,46.55 9.00,44.00 C7.29,41.45 7.60,42.00 7.30,39.00 C7.00,36.00 7.04,37.00 8.00,34.00 C8.96,31.00 8.85,32.00 10.50,29.00 C12.15,26.00 12.15,27.30 13.50,24.00 C14.85,20.70 14.49,21.45 15.00,18.00 C15.51,14.55 14.60,15.68 15.20,12.50 C15.80,9.32 15.41,8.39 17.00,7.40 Z" fill="url(#whiteg)"/><g clip-path="url(#catclip)"><path d="M17.00,7.40 C18.59,6.41 17.50,8.06 20.50,9.20 C23.50,10.34 22.95,10.00 27.00,11.20 C31.05,12.40 29.80,11.61 34.00,13.20 C38.20,14.79 36.95,13.86 41.00,16.50 C45.05,19.14 44.05,18.55 47.50,22.00 C50.95,25.45 49.95,25.96 52.50,28.00 C55.05,30.04 54.05,28.95 56.00,28.80 C57.95,28.65 57.05,28.70 59.00,27.50 C60.95,26.30 60.25,26.21 62.50,24.80 C64.75,23.39 63.95,23.58 66.50,22.80 C69.05,22.02 68.30,22.14 71.00,22.20 C73.70,22.26 73.10,22.01 75.50,23.00 C77.90,23.99 77.41,23.40 79.00,25.50 C80.59,27.60 78.70,28.20 80.80,30.00 C82.90,31.80 82.46,30.30 86.00,31.50 C89.54,32.70 89.00,32.05 92.60,34.00 C96.20,35.95 95.18,35.06 98.00,38.00 C100.82,40.94 99.90,40.20 102.00,43.80 C104.10,47.40 103.74,46.04 105.00,50.00 C106.26,53.96 105.96,52.80 106.20,57.00 C106.44,61.20 106.46,59.80 105.80,64.00 C105.14,68.20 105.44,66.95 104.00,71.00 C102.56,75.05 103.25,74.05 101.00,77.50 C98.75,80.95 99.80,79.95 96.50,82.50 C93.20,85.05 94.35,84.41 90.00,86.00 C85.65,87.59 87.40,87.11 82.00,87.80 C76.60,88.49 77.40,88.48 72.00,88.30 C66.60,88.12 68.05,88.25 64.00,87.20 C59.95,86.15 61.50,84.92 58.50,84.80 C55.50,84.68 57.15,85.84 54.00,86.80 C50.85,87.76 52.20,87.52 48.00,88.00 C43.80,88.48 45.10,88.40 40.00,88.40 C34.90,88.40 36.10,88.66 31.00,88.00 C25.90,87.34 27.05,87.85 23.00,86.20 C18.95,84.55 19.90,85.56 17.50,82.50 C15.10,79.44 15.81,80.05 15.00,76.00 C14.19,71.95 14.44,73.20 14.80,69.00 C15.16,64.80 15.30,65.90 16.20,62.00 C17.10,58.10 17.17,59.15 17.80,56.00 C18.43,52.85 19.74,54.05 18.30,51.50 C16.86,48.95 15.79,49.75 13.00,47.50 C10.21,45.25 10.71,46.55 9.00,44.00 C7.29,41.45 7.60,42.00 7.30,39.00 C7.00,36.00 7.04,37.00 8.00,34.00 C8.96,31.00 8.85,32.00 10.50,29.00 C12.15,26.00 12.15,27.30 13.50,24.00 C14.85,20.70 14.49,21.45 15.00,18.00 C15.51,14.55 14.60,15.68 15.20,12.50 C15.80,9.32 15.41,8.39 17.00,7.40 Z" fill="none" stroke="#707070" stroke-width="4" opacity="0.6" filter="url(#blur1)"/><path d="M18,50 C28,57 44,55 53,42" fill="none" stroke="#8a8a8a" stroke-width="2" opacity="0.7" filter="url(#blur1)"/><ellipse cx="47" cy="31" rx="5" ry="5" fill="#bdbdbd" opacity="0.7" filter="url(#blur1)"/><path d="M56,85 C58,75 60,70 64,66" fill="none" stroke="#a0a0a0" stroke-width="2" opacity="0.6" filter="url(#blur1)"/><ellipse cx="100" cy="60" rx="7" ry="20" fill="#9c9c9c" opacity="0.35" filter="url(#blur2)"/><ellipse cx="90" cy="74" rx="6" ry="3" fill="#d8d8d8" opacity="0.9" filter="url(#blur1)"/></g><ellipse cx="71.5" cy="28.5" rx="2.4" ry="2.2" fill="#000"/></g>
<polyline points="981.30,492.80 1144.10,492.80 1144.10,440.00" fill="none" stroke="#111" stroke-width="1.2"/>
<polygon points="1144.10,433.00 1148.20,441.00 1140.00,441.00" fill="#111"/>
<polyline points="981.30,545.00 1143.80,545.00 1143.80,602.80" fill="none" stroke="#111" stroke-width="1.2"/>
<polygon points="1143.80,609.80 1139.70,601.80 1147.90,601.80" fill="#111"/>
<polyline points="1104.10,419.90 1124.00,419.90" fill="none" stroke="#111" stroke-width="1.2"/>
<polygon points="1131.00,419.90 1123.00,424.00 1123.00,415.80" fill="#111"/>
<polyline points="1102.90,621.80 1123.80,622.10" fill="none" stroke="#111" stroke-width="1.2"/>
<polygon points="1130.80,622.20 1122.74,626.18 1122.86,617.99" fill="#111"/>
<circle cx="1144.1" cy="419.9" r="12.8" fill="#fff" stroke="#111" stroke-width="1.3"/>
<text x="1144.10" y="426.79" text-anchor="middle" font-family='"Liberation Sans", sans-serif' font-size="17.5" font-weight="normal" font-style="normal" fill="#111" textLength="9.48" lengthAdjust="spacingAndGlyphs" >C</text>
<circle cx="1143.8" cy="622.6" r="12.8" fill="#fff" stroke="#111" stroke-width="1.3"/>
<text x="1143.80" y="629.50" text-anchor="middle" font-family='"Liberation Sans", sans-serif' font-size="17.5" font-weight="normal" font-style="normal" fill="#111" textLength="9.48" lengthAdjust="spacingAndGlyphs" >C</text>
<polyline points="1156.80,421.00 1175.10,444.48" fill="none" stroke="#111" stroke-width="1.2"/>
<polygon points="1179.40,450.00 1171.25,446.21 1177.72,441.17" fill="#111"/>
<polyline points="1156.50,621.50 1175.20,596.60" fill="none" stroke="#111" stroke-width="1.2"/>
<polygon points="1179.40,591.00 1177.88,599.86 1171.32,594.94" fill="#111"/>
<path d="M1179.5,427.3 H1405.8 V473.7 H1369.1 V566.7 H1405.8 V612.9 H1179.5 V566.7 H1216 V473.7 H1179.5 Z" fill="#bfbfbf" stroke="#b0b0b0" stroke-width="1.2"/>
<text x="1236.60" y="536.20" text-anchor="start" font-family='"Liberation Sans", sans-serif' font-size="40" font-weight="normal" font-style="normal" fill="#111" textLength="95.5" lengthAdjust="spacingAndGlyphs" >L-Net</text>
<text x="1334.00" y="546.50" text-anchor="start" font-family='"Liberation Sans", sans-serif' font-size="27" font-weight="normal" font-style="normal" fill="#111" >2</text>
<circle cx="1186.5" cy="507" r="1.6" fill="#111"/>
<circle cx="1186.5" cy="519.3" r="1.6" fill="#111"/>
<circle cx="1186.5" cy="531.3" r="1.6" fill="#111"/>
<circle cx="1401.4" cy="507" r="1.6" fill="#111"/>
<circle cx="1401.4" cy="519.3" r="1.6" fill="#111"/>
<circle cx="1401.4" cy="531.3" r="1.6" fill="#111"/>
<rect x="1426.75" y="422.50" width="19.15" height="18.00" fill="#f8e4d6" stroke="#3b302a" stroke-width="1.5"/>
<rect x="1426.75" y="451.50" width="19.15" height="18.40" fill="#f8e4d6" stroke="#3b302a" stroke-width="1.5"/>
<rect x="1426.75" y="567.70" width="19.15" height="17.30" fill="#f8e4d6" stroke="#3b302a" stroke-width="1.5"/>
<rect x="1426.75" y="597.10" width="19.15" height="17.60" fill="#f8e4d6" stroke="#3b302a" stroke-width="1.5"/>
<polyline points="1405.50,450.00 1421.52,436.58" fill="none" stroke="#111" stroke-width="1.2"/>
<polygon points="1426.50,432.40 1423.32,440.28 1418.18,434.15" fill="#111"/>
<polyline points="1405.50,450.00 1420.70,457.67" fill="none" stroke="#111" stroke-width="1.2"/>
<polygon points="1426.50,460.60 1418.00,460.79 1421.61,453.65" fill="#111"/>
<polyline points="1405.50,590.00 1420.97,580.42" fill="none" stroke="#111" stroke-width="1.2"/>
<polygon points="1426.50,577.00 1422.23,584.35 1418.02,577.55" fill="#111"/>
<polyline points="1405.50,590.00 1421.45,602.91" fill="none" stroke="#111" stroke-width="1.2"/>
<polygon points="1426.50,607.00 1418.15,605.39 1423.19,599.17" fill="#111"/>
<text x="1454.55" y="438.20" font-family='"Liberation Serif", serif' font-size="24.32" font-style="italic" font-weight="normal" fill="#111" >e</text>
<text x="1467.23" y="444.70" font-family='"Liberation Serif", serif' font-size="17.88" font-style="normal" font-weight="normal" fill="#111" >1</text>
<polygon points="1471.60,417.60 1475.00,417.60 1470.00,426.50 1469.40,426.00" fill="#111"/>
<text x="1458.82" y="477.60" font-family='"Liberation Serif", serif' font-size="26.22" font-style="italic" font-weight="bold" fill="#111" stroke="#111" stroke-width="0.7">l</text>
<text x="1467.16" y="483.50" font-family='"Liberation Serif", serif' font-size="18.64" font-style="normal" font-weight="normal" fill="#111" >1</text>
<polygon points="1471.60,456.50 1475.00,456.50 1470.00,465.30 1469.40,464.80" fill="#111"/>
<text x="1457.02" y="581.20" font-family='"Liberation Serif", serif' font-size="26.22" font-style="italic" font-weight="bold" fill="#111" stroke="#111" stroke-width="0.7">l</text>
<text x="1467.09" y="588.20" font-family='"Liberation Serif", serif' font-size="17.86" font-style="italic" font-weight="normal" fill="#111" >F</text>
<polygon points="1469.80,561.20 1473.20,561.20 1468.20,570.00 1467.60,569.50" fill="#111"/>
<text x="1453.94" y="620.60" font-family='"Liberation Serif", serif' font-size="24.53" font-style="italic" font-weight="normal" fill="#111" >e</text>
<text x="1466.59" y="627.00" font-family='"Liberation Serif", serif' font-size="17.86" font-style="italic" font-weight="normal" fill="#111" >F</text>
<polygon points="1472.80,600.60 1476.20,600.60 1471.20,610.00 1470.60,609.50" fill="#111"/>
<text x="1295.50" y="393.60" text-anchor="start" font-family='"Liberation Sans", sans-serif' font-size="35" font-weight="normal" font-style="normal" fill="#111" textLength="149.5" lengthAdjust="spacingAndGlyphs" >(c) GCNet</text>
</svg>
</body></html>
